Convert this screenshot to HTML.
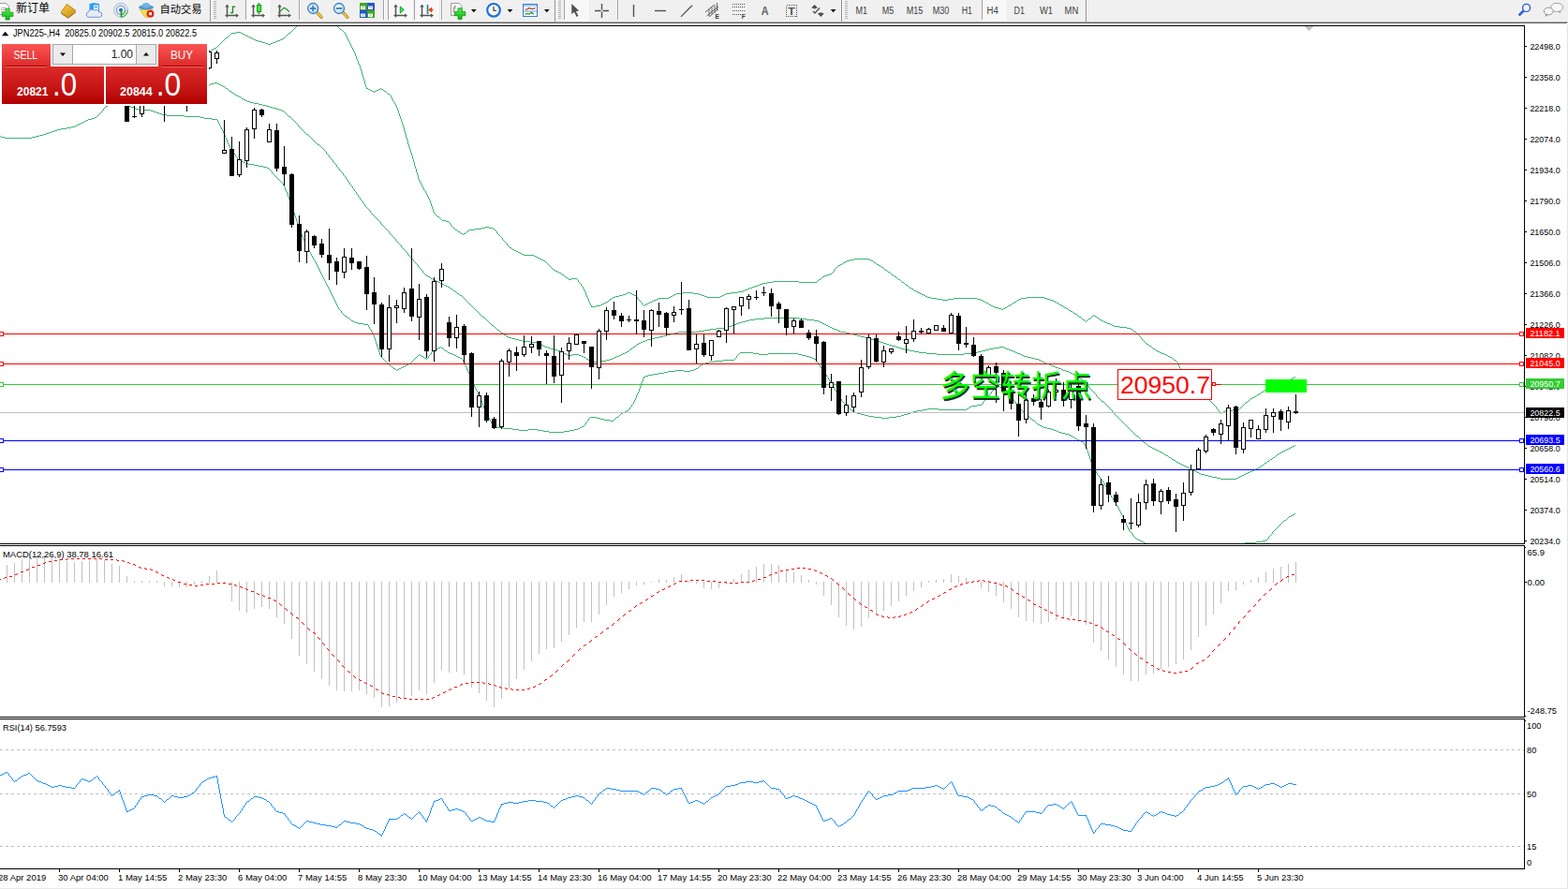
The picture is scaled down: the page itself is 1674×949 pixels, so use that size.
<!DOCTYPE html>
<html><head><meta charset="utf-8"><title>JPN225 H4</title>
<style>
html,body{margin:0;padding:0;background:#fff;}
body{width:1674px;height:949px;overflow:hidden;position:relative;font-family:"Liberation Sans",sans-serif;}
.edge{position:absolute;background:#f0f0f0;}
</style></head><body>
<div class="edge" style="left:1673px;top:25px;width:1px;height:924px;background:#e3e3e3"></div>
<div class="edge" style="left:0;top:948px;width:1674px;height:1px;background:#e8e8e8"></div>
<svg width="1674" height="949" viewBox="0 0 1674 949" style="position:absolute;left:0;top:0" font-family="Liberation Sans, sans-serif">
<defs><clipPath id="cm"><rect x="0" y="28" width="1627" height="552"/></clipPath>
<clipPath id="cmacd"><rect x="0" y="584" width="1627" height="180"/></clipPath>
<linearGradient id="gr" x1="0" y1="0" x2="0" y2="1"><stop offset="0" stop-color="#fa5252"/><stop offset="0.45" stop-color="#d62222"/><stop offset="1" stop-color="#b00000"/></linearGradient>
</defs>
<g shape-rendering="crispEdges">
<rect x="0" y="27" width="1628" height="1" fill="#000"/>
<rect x="1627" y="27" width="1" height="554" fill="#000"/>
<rect x="1627" y="582" width="1" height="184" fill="#000"/>
<rect x="1627" y="767" width="1" height="161" fill="#000"/>
<rect x="1628" y="584" width="1" height="1" fill="#000"/>
<rect x="1628" y="769" width="1" height="1" fill="#000"/>
<rect x="1628" y="764" width="1" height="1" fill="#000"/>
<rect x="0" y="580" width="1628" height="1" fill="#000"/>
<rect x="0" y="582" width="1628" height="1" fill="#000"/>
<rect x="0" y="765" width="1628" height="1" fill="#000"/>
<rect x="0" y="767" width="1628" height="1" fill="#000"/>
<rect x="0" y="927" width="1628" height="1" fill="#000"/>
</g>
<path fill="#3cb371" shape-rendering="crispEdges" d="M316 28h1v1h-1zM315 29h1v1h-1zM314 30h1v1h-1zM313 31h1v1h-1zM312 32h1v1h-1zM311 33h1v1h-1zM252 34h5v1h-5zM310 34h1v1h-1zM247 35h5v1h-5zM257 35h2v1h-2zM308 35h2v1h-2zM246 36h1v1h-1zM259 36h2v1h-2zM307 36h1v1h-1zM245 37h1v1h-1zM261 37h2v1h-2zM306 37h1v1h-1zM244 38h1v1h-1zM263 38h2v1h-2zM305 38h1v1h-1zM243 39h1v1h-1zM265 39h2v1h-2zM304 39h1v1h-1zM241 40h2v1h-2zM267 40h2v1h-2zM303 40h1v1h-1zM240 41h1v1h-1zM269 41h2v1h-2zM301 41h2v1h-2zM239 42h1v1h-1zM271 42h2v1h-2zM299 42h2v1h-2zM238 43h1v1h-1zM273 43h3v1h-3zM296 43h3v1h-3zM237 44h1v1h-1zM276 44h4v1h-4zM294 44h2v1h-2zM236 45h1v1h-1zM280 45h3v1h-3zM291 45h3v1h-3zM235 46h1v1h-1zM283 46h3v1h-3zM289 46h2v1h-2zM234 47h1v1h-1zM286 47h3v1h-3zM233 48h1v1h-1zM232 49h1v1h-1zM231 50h1v1h-1zM229 51h2v1h-2zM227 52h2v1h-2zM225 53h2v1h-2zM222 54h3v1h-3zM220 55h2v1h-2zM218 56h2v1h-2zM216 57h2v1h-2zM214 58h2v1h-2z"/>
<path fill="#3cb371" shape-rendering="crispEdges" d="M360 28h1v1h-1zM361 29h1v1h-1zM362 30h1v1h-1zM363 31h2v1h-2zM365 32h1v1h-1zM366 33h1v1h-1zM367 34h1v1h-1zM368 35h1v2h-1zM369 37h1v2h-1zM370 39h1v2h-1zM371 41h1v2h-1zM372 43h1v2h-1zM373 45h1v2h-1zM374 47h1v2h-1zM375 49h1v2h-1zM376 51h1v2h-1zM377 53h1v2h-1zM378 55h1v2h-1zM379 57h1v3h-1zM380 60h1v3h-1zM381 63h1v2h-1zM382 65h1v3h-1zM383 68h1v2h-1zM384 70h1v3h-1zM385 73h1v3h-1zM386 76h1v4h-1zM387 80h1v3h-1zM388 83h1v3h-1zM389 86h1v4h-1zM390 90h1v3h-1zM391 93h1v1h-1zM391 94h2v1h-2zM406 94h1v1h-1zM393 95h2v1h-2zM404 95h2v1h-2zM407 95h2v1h-2zM395 96h2v1h-2zM402 96h2v1h-2zM409 96h1v1h-1zM397 97h2v1h-2zM400 97h2v1h-2zM410 97h2v1h-2zM399 98h1v1h-1zM412 98h1v1h-1zM413 99h1v1h-1zM414 100h2v1h-2zM416 101h1v1h-1zM417 102h1v2h-1zM418 104h1v2h-1zM419 106h1v2h-1zM420 108h1v1h-1zM421 109h1v2h-1zM422 111h1v2h-1zM423 113h1v2h-1zM424 115h1v3h-1zM425 118h1v3h-1zM426 121h1v3h-1zM427 124h1v3h-1zM428 127h1v3h-1zM429 130h1v3h-1zM430 133h1v3h-1zM431 136h1v4h-1zM432 140h1v3h-1zM433 143h1v4h-1zM434 147h1v3h-1zM435 150h1v4h-1zM436 154h1v3h-1zM437 157h1v3h-1zM438 160h1v3h-1zM439 163h1v3h-1zM440 166h1v4h-1zM441 170h1v3h-1zM442 173h1v4h-1zM443 177h1v3h-1zM444 180h1v4h-1zM445 184h1v3h-1zM446 187h1v4h-1zM447 191h1v2h-1zM448 193h1v2h-1zM449 195h1v2h-1zM450 197h1v2h-1zM451 199h1v2h-1zM452 201h1v2h-1zM453 203h1v1h-1zM454 204h1v2h-1zM455 206h1v2h-1zM456 208h1v2h-1zM457 210h1v2h-1zM458 212h1v2h-1zM459 214h1v3h-1zM460 217h1v3h-1zM461 220h1v3h-1zM462 223h1v3h-1zM463 226h1v2h-1zM464 228h1v1h-1zM465 229h1v1h-1zM466 230h1v1h-1zM467 231h2v1h-2zM469 232h1v1h-1zM470 233h1v1h-1zM471 234h1v1h-1zM472 235h4v1h-4zM476 236h3v1h-3zM479 237h1v1h-1zM480 238h1v1h-1zM481 239h1v2h-1zM482 241h1v1h-1zM483 242h1v1h-1zM518 242h4v1h-4zM484 243h1v1h-1zM514 243h4v1h-4zM522 243h4v1h-4zM485 244h1v1h-1zM507 244h7v1h-7zM526 244h2v1h-2zM486 245h2v1h-2zM501 245h6v1h-6zM528 245h1v1h-1zM488 246h1v1h-1zM499 246h2v1h-2zM529 246h1v1h-1zM489 247h2v1h-2zM498 247h1v1h-1zM530 247h1v2h-1zM491 248h1v1h-1zM497 248h1v1h-1zM492 249h2v1h-2zM495 249h2v1h-2zM531 249h1v1h-1zM494 250h1v1h-1zM532 250h1v1h-1zM533 251h1v1h-1zM534 252h1v1h-1zM535 253h1v1h-1zM536 254h1v2h-1zM537 256h1v1h-1zM538 257h1v1h-1zM539 258h1v1h-1zM540 259h1v1h-1zM541 260h1v2h-1zM542 262h1v1h-1zM543 263h1v1h-1zM544 264h2v1h-2zM546 265h1v1h-1zM547 266h2v1h-2zM549 267h2v1h-2zM551 268h2v1h-2zM553 269h2v1h-2zM555 270h2v1h-2zM557 271h2v1h-2zM559 272h11v1h-11zM570 273h2v1h-2zM572 274h2v1h-2zM574 275h2v1h-2zM576 276h2v1h-2zM912 276h16v1h-16zM578 277h2v1h-2zM907 277h5v1h-5zM928 277h2v1h-2zM580 278h2v1h-2zM904 278h3v1h-3zM930 278h2v1h-2zM582 279h1v1h-1zM902 279h2v1h-2zM932 279h1v1h-1zM583 280h1v1h-1zM900 280h2v1h-2zM933 280h2v1h-2zM584 281h1v1h-1zM899 281h1v1h-1zM935 281h1v1h-1zM585 282h1v1h-1zM897 282h2v1h-2zM936 282h2v1h-2zM586 283h1v1h-1zM895 283h2v1h-2zM938 283h2v1h-2zM587 284h1v1h-1zM894 284h1v1h-1zM940 284h1v1h-1zM588 285h1v1h-1zM893 285h1v1h-1zM941 285h2v1h-2zM589 286h1v1h-1zM892 286h1v1h-1zM943 286h1v1h-1zM590 287h1v1h-1zM891 287h1v1h-1zM944 287h1v1h-1zM591 288h2v1h-2zM890 288h1v2h-1zM945 288h2v1h-2zM593 289h2v1h-2zM947 289h1v1h-1zM595 290h2v1h-2zM889 290h1v1h-1zM948 290h2v1h-2zM597 291h2v1h-2zM888 291h1v1h-1zM950 291h1v1h-1zM599 292h1v1h-1zM886 292h2v1h-2zM951 292h1v1h-1zM600 293h2v1h-2zM883 293h3v1h-3zM952 293h2v1h-2zM602 294h1v1h-1zM880 294h3v1h-3zM954 294h1v1h-1zM603 295h1v1h-1zM878 295h2v1h-2zM955 295h2v1h-2zM604 296h2v1h-2zM877 296h1v1h-1zM957 296h1v1h-1zM606 297h1v1h-1zM610 297h6v1h-6zM876 297h1v1h-1zM958 297h1v1h-1zM607 298h3v1h-3zM616 298h1v1h-1zM874 298h2v1h-2zM959 298h2v1h-2zM617 299h1v2h-1zM873 299h1v1h-1zM961 299h1v1h-1zM825 300h28v1h-28zM872 300h1v1h-1zM962 300h1v1h-1zM618 301h1v1h-1zM819 301h6v1h-6zM853 301h19v1h-19zM963 301h2v1h-2zM619 302h1v1h-1zM814 302h5v1h-5zM965 302h1v1h-1zM620 303h1v2h-1zM811 303h3v1h-3zM966 303h1v1h-1zM809 304h2v1h-2zM967 304h2v1h-2zM621 305h1v1h-1zM806 305h3v1h-3zM969 305h1v1h-1zM622 306h1v2h-1zM803 306h3v1h-3zM970 306h1v1h-1zM800 307h3v1h-3zM971 307h2v1h-2zM623 308h1v2h-1zM798 308h2v1h-2zM973 308h2v1h-2zM795 309h3v1h-3zM975 309h1v1h-1zM624 310h1v2h-1zM793 310h2v1h-2zM976 310h2v1h-2zM788 311h5v1h-5zM978 311h2v1h-2zM625 312h1v3h-1zM670 312h3v1h-3zM729 312h11v1h-11zM780 312h8v1h-8zM980 312h2v1h-2zM668 313h2v1h-2zM673 313h2v1h-2zM722 313h7v1h-7zM740 313h6v1h-6zM775 313h5v1h-5zM982 313h2v1h-2zM665 314h3v1h-3zM675 314h2v1h-2zM720 314h2v1h-2zM746 314h3v1h-3zM773 314h2v1h-2zM984 314h2v1h-2zM626 315h1v2h-1zM661 315h4v1h-4zM677 315h2v1h-2zM718 315h2v1h-2zM749 315h3v1h-3zM771 315h2v1h-2zM986 315h2v1h-2zM657 316h4v1h-4zM679 316h1v1h-1zM716 316h2v1h-2zM752 316h3v1h-3zM769 316h2v1h-2zM988 316h2v1h-2zM627 317h1v2h-1zM654 317h3v1h-3zM680 317h1v2h-1zM714 317h2v1h-2zM755 317h14v1h-14zM990 317h4v1h-4zM1096 317h19v1h-19zM653 318h1v1h-1zM703 318h11v1h-11zM994 318h6v1h-6zM1018 318h25v1h-25zM1090 318h6v1h-6zM1115 318h3v1h-3zM628 319h1v3h-1zM651 319h2v1h-2zM681 319h1v1h-1zM701 319h2v1h-2zM1000 319h6v1h-6zM1012 319h6v1h-6zM1043 319h4v1h-4zM1088 319h2v1h-2zM1118 319h3v1h-3zM650 320h1v1h-1zM682 320h1v1h-1zM698 320h3v1h-3zM1006 320h6v1h-6zM1047 320h2v1h-2zM1086 320h2v1h-2zM1121 320h3v1h-3zM649 321h1v1h-1zM683 321h1v1h-1zM696 321h2v1h-2zM1049 321h2v1h-2zM1085 321h1v1h-1zM1124 321h2v1h-2zM629 322h1v2h-1zM647 322h2v1h-2zM684 322h1v1h-1zM694 322h2v1h-2zM1051 322h2v1h-2zM1083 322h2v1h-2zM1126 322h2v1h-2zM645 323h2v1h-2zM685 323h1v2h-1zM692 323h2v1h-2zM1053 323h2v1h-2zM1081 323h2v1h-2zM1128 323h2v1h-2zM630 324h1v2h-1zM643 324h2v1h-2zM690 324h2v1h-2zM1055 324h1v1h-1zM1080 324h1v1h-1zM1130 324h1v1h-1zM641 325h2v1h-2zM686 325h1v1h-1zM688 325h2v1h-2zM1056 325h2v1h-2zM1078 325h2v1h-2zM1131 325h2v1h-2zM631 326h1v1h-1zM636 326h5v1h-5zM687 326h1v1h-1zM1058 326h2v1h-2zM1076 326h2v1h-2zM1133 326h2v1h-2zM631 327h5v1h-5zM1060 327h2v1h-2zM1075 327h1v1h-1zM1135 327h1v1h-1zM1062 328h4v1h-4zM1073 328h2v1h-2zM1136 328h2v1h-2zM1066 329h3v1h-3zM1071 329h2v1h-2zM1138 329h2v1h-2zM1069 330h2v1h-2zM1140 330h1v1h-1zM1141 331h2v1h-2zM1143 332h2v1h-2zM1145 333h1v1h-1zM1146 334h2v1h-2zM1148 335h2v1h-2zM1150 336h1v1h-1zM1167 336h1v1h-1zM1151 337h1v1h-1zM1166 337h1v1h-1zM1168 337h2v1h-2zM1152 338h2v1h-2zM1165 338h1v1h-1zM1170 338h1v1h-1zM1154 339h1v1h-1zM1164 339h1v1h-1zM1171 339h2v1h-2zM1155 340h1v1h-1zM1162 340h2v1h-2zM1173 340h1v1h-1zM1156 341h2v1h-2zM1161 341h1v1h-1zM1174 341h2v1h-2zM1158 342h1v1h-1zM1160 342h1v1h-1zM1176 342h2v1h-2zM1159 343h1v1h-1zM1178 343h2v1h-2zM1180 344h2v1h-2zM1182 345h3v1h-3zM1185 346h2v1h-2zM1187 347h2v1h-2zM1189 348h6v1h-6zM1195 349h8v1h-8zM1203 350h4v1h-4zM1207 351h2v1h-2zM1209 352h1v1h-1zM1210 353h1v1h-1zM1211 354h2v1h-2zM1213 355h1v1h-1zM1214 356h1v1h-1zM1215 357h1v1h-1zM1216 358h1v1h-1zM1217 359h1v1h-1zM1218 360h1v2h-1zM1219 362h1v1h-1zM1220 363h1v1h-1zM1221 364h1v1h-1zM1222 365h1v1h-1zM1223 366h1v1h-1zM1224 367h2v1h-2zM1226 368h1v1h-1zM1227 369h2v1h-2zM1229 370h1v1h-1zM1230 371h1v1h-1zM1231 372h2v1h-2zM1233 373h1v1h-1zM1234 374h2v1h-2zM1236 375h2v1h-2zM1238 376h2v1h-2zM1240 377h3v1h-3zM1243 378h2v1h-2zM1245 379h2v1h-2zM1247 380h2v1h-2zM1249 381h2v1h-2zM1251 382h1v1h-1zM1252 383h1v1h-1zM1253 384h2v1h-2zM1255 385h1v1h-1zM1256 386h1v1h-1zM1257 387h1v2h-1zM1258 389h1v2h-1zM1259 391h1v2h-1zM1260 393h1v1h-1zM1261 394h1v1h-1zM1262 395h1v1h-1zM1263 396h1v1h-1zM1264 397h1v1h-1zM1265 398h1v2h-1zM1266 400h1v1h-1zM1267 401h1v1h-1zM1268 402h1v1h-1zM1382 402h1v1h-1zM1269 403h1v1h-1zM1380 403h2v1h-2zM1270 404h1v1h-1zM1378 404h2v1h-2zM1271 405h1v1h-1zM1376 405h2v1h-2zM1272 406h1v2h-1zM1373 406h3v1h-3zM1371 407h2v1h-2zM1273 408h1v1h-1zM1368 408h3v1h-3zM1274 409h1v1h-1zM1366 409h2v1h-2zM1275 410h1v1h-1zM1363 410h3v1h-3zM1276 411h1v1h-1zM1361 411h2v1h-2zM1277 412h1v2h-1zM1359 412h2v1h-2zM1356 413h3v1h-3zM1278 414h1v1h-1zM1354 414h2v1h-2zM1279 415h1v1h-1zM1352 415h2v1h-2zM1280 416h1v1h-1zM1350 416h2v1h-2zM1281 417h1v1h-1zM1349 417h1v1h-1zM1282 418h1v1h-1zM1347 418h2v1h-2zM1283 419h1v1h-1zM1346 419h1v1h-1zM1284 420h1v1h-1zM1344 420h2v1h-2zM1285 421h1v1h-1zM1342 421h2v1h-2zM1286 422h1v1h-1zM1341 422h1v1h-1zM1287 423h1v1h-1zM1339 423h2v1h-2zM1288 424h1v1h-1zM1337 424h2v1h-2zM1289 425h1v1h-1zM1335 425h2v1h-2zM1290 426h1v1h-1zM1334 426h1v1h-1zM1291 427h1v1h-1zM1333 427h1v1h-1zM1292 428h1v1h-1zM1332 428h1v1h-1zM1293 429h1v1h-1zM1330 429h2v1h-2zM1294 430h1v1h-1zM1329 430h1v1h-1zM1295 431h1v1h-1zM1328 431h1v1h-1zM1296 432h1v1h-1zM1327 432h1v1h-1zM1297 433h1v1h-1zM1326 433h1v1h-1zM1298 434h1v2h-1zM1325 434h1v1h-1zM1324 435h1v1h-1zM1299 436h1v1h-1zM1323 436h1v1h-1zM1300 437h1v1h-1zM1316 437h7v1h-7zM1301 438h1v2h-1zM1308 438h8v1h-8zM1306 439h2v1h-2zM1302 440h1v1h-1zM1304 440h2v1h-2zM1303 441h1v1h-1z"/>
<path fill="#3cb371" shape-rendering="crispEdges" d="M229 88h3v1h-3zM225 89h4v1h-4zM232 89h2v1h-2zM221 90h4v1h-4zM234 90h2v1h-2zM217 91h4v1h-4zM236 91h2v1h-2zM214 92h3v1h-3zM238 92h2v1h-2zM240 93h1v1h-1zM241 94h2v1h-2zM243 95h1v1h-1zM244 96h1v1h-1zM245 97h2v1h-2zM247 98h1v1h-1zM248 99h2v1h-2zM250 100h1v1h-1zM251 101h2v1h-2zM253 102h2v1h-2zM255 103h2v1h-2zM257 104h1v1h-1zM258 105h2v1h-2zM260 106h2v1h-2zM262 107h2v1h-2zM264 108h3v1h-3zM267 109h4v1h-4zM271 110h5v1h-5zM276 111h4v1h-4zM280 112h4v1h-4zM284 113h4v1h-4zM288 114h3v1h-3zM291 115h4v1h-4zM295 116h3v1h-3zM298 117h3v1h-3zM301 118h2v1h-2zM303 119h1v1h-1zM304 120h1v1h-1zM305 121h1v1h-1zM306 122h1v1h-1zM307 123h1v1h-1zM308 124h2v1h-2zM310 125h1v1h-1zM311 126h1v1h-1zM312 127h1v1h-1zM313 128h1v1h-1zM314 129h1v1h-1zM315 130h1v1h-1zM316 131h1v1h-1zM317 132h1v1h-1zM318 133h1v2h-1zM319 135h1v1h-1zM320 136h1v1h-1zM321 137h1v1h-1zM322 138h1v1h-1zM323 139h1v1h-1zM324 140h1v1h-1zM325 141h1v1h-1zM326 142h1v1h-1zM327 143h2v1h-2zM329 144h1v1h-1zM330 145h1v1h-1zM331 146h1v1h-1zM332 147h1v1h-1zM333 148h1v1h-1zM334 149h1v1h-1zM335 150h1v1h-1zM336 151h1v1h-1zM337 152h1v1h-1zM338 153h1v1h-1zM339 154h2v1h-2zM341 155h1v1h-1zM342 156h1v1h-1zM343 157h1v1h-1zM344 158h1v1h-1zM345 159h1v1h-1zM346 160h1v1h-1zM347 161h1v1h-1zM348 162h1v2h-1zM349 164h1v1h-1zM350 165h1v1h-1zM351 166h1v2h-1zM352 168h1v1h-1zM353 169h1v1h-1zM354 170h1v1h-1zM355 171h1v2h-1zM356 173h1v1h-1zM357 174h1v1h-1zM358 175h1v1h-1zM359 176h1v2h-1zM360 178h1v1h-1zM361 179h1v1h-1zM362 180h1v2h-1zM363 182h1v1h-1zM364 183h1v1h-1zM365 184h1v1h-1zM366 185h1v2h-1zM367 187h1v1h-1zM368 188h1v1h-1zM369 189h1v2h-1zM370 191h1v1h-1zM371 192h1v2h-1zM372 194h1v1h-1zM373 195h1v2h-1zM374 197h1v1h-1zM375 198h1v1h-1zM376 199h1v2h-1zM377 201h1v1h-1zM378 202h1v2h-1zM379 204h1v1h-1zM380 205h1v2h-1zM381 207h1v1h-1zM382 208h1v2h-1zM383 210h1v1h-1zM384 211h1v2h-1zM385 213h1v1h-1zM386 214h1v1h-1zM387 215h1v2h-1zM388 217h1v1h-1zM389 218h1v2h-1zM390 220h1v1h-1zM391 221h1v1h-1zM392 222h1v1h-1zM393 223h1v1h-1zM394 224h1v1h-1zM395 225h1v2h-1zM396 227h1v1h-1zM397 228h1v1h-1zM398 229h1v1h-1zM399 230h1v1h-1zM400 231h1v1h-1zM401 232h1v1h-1zM402 233h1v1h-1zM403 234h1v1h-1zM404 235h1v1h-1zM405 236h1v1h-1zM406 237h1v2h-1zM407 239h1v1h-1zM408 240h1v1h-1zM409 241h1v1h-1zM410 242h1v1h-1zM411 243h1v1h-1zM412 244h1v1h-1zM413 245h1v1h-1zM414 246h1v1h-1zM415 247h1v2h-1zM416 249h1v1h-1zM417 250h1v1h-1zM418 251h1v1h-1zM419 252h1v1h-1zM420 253h1v1h-1zM421 254h1v1h-1zM422 255h1v2h-1zM423 257h1v1h-1zM424 258h1v1h-1zM425 259h1v1h-1zM426 260h1v1h-1zM427 261h1v1h-1zM428 262h1v2h-1zM429 264h1v1h-1zM430 265h1v1h-1zM431 266h1v1h-1zM432 267h1v1h-1zM433 268h1v1h-1zM434 269h1v1h-1zM435 270h1v2h-1zM436 272h1v1h-1zM437 273h1v1h-1zM438 274h1v1h-1zM439 275h1v1h-1zM440 276h1v1h-1zM441 277h1v2h-1zM442 279h1v1h-1zM443 280h1v1h-1zM444 281h1v1h-1zM445 282h1v1h-1zM446 283h1v2h-1zM447 285h1v1h-1zM448 286h1v1h-1zM449 287h1v1h-1zM450 288h1v1h-1zM451 289h1v2h-1zM452 291h1v1h-1zM453 292h1v1h-1zM454 293h1v1h-1zM455 294h2v1h-2zM457 295h2v1h-2zM459 296h1v1h-1zM460 297h2v1h-2zM462 298h2v1h-2zM464 299h2v1h-2zM466 300h2v1h-2zM468 301h2v1h-2zM470 302h2v1h-2zM472 303h2v1h-2zM474 304h2v1h-2zM476 305h2v1h-2zM478 306h2v1h-2zM480 307h1v1h-1zM481 308h2v1h-2zM483 309h1v1h-1zM484 310h2v1h-2zM486 311h1v1h-1zM487 312h1v1h-1zM488 313h2v1h-2zM490 314h1v1h-1zM491 315h2v1h-2zM493 316h1v1h-1zM494 317h1v1h-1zM495 318h1v1h-1zM496 319h1v1h-1zM497 320h1v1h-1zM498 321h1v1h-1zM499 322h1v1h-1zM500 323h1v1h-1zM501 324h1v1h-1zM502 325h1v1h-1zM503 326h1v1h-1zM504 327h1v1h-1zM505 328h1v1h-1zM506 329h1v1h-1zM507 330h1v1h-1zM508 331h1v1h-1zM509 332h1v1h-1zM510 333h1v1h-1zM511 334h1v1h-1zM512 335h1v1h-1zM513 336h1v1h-1zM514 337h1v1h-1zM515 338h2v1h-2zM517 339h1v1h-1zM816 339h37v1h-37zM518 340h1v1h-1zM806 340h10v1h-10zM853 340h8v1h-8zM519 341h1v1h-1zM800 341h6v1h-6zM861 341h8v1h-8zM520 342h1v1h-1zM796 342h4v1h-4zM869 342h5v1h-5zM521 343h1v1h-1zM792 343h4v1h-4zM874 343h2v1h-2zM522 344h1v1h-1zM789 344h3v1h-3zM876 344h2v1h-2zM523 345h1v1h-1zM786 345h3v1h-3zM878 345h2v1h-2zM524 346h1v1h-1zM784 346h2v1h-2zM880 346h2v1h-2zM525 347h2v1h-2zM781 347h3v1h-3zM882 347h2v1h-2zM527 348h1v1h-1zM778 348h3v1h-3zM884 348h2v1h-2zM528 349h1v1h-1zM773 349h5v1h-5zM886 349h2v1h-2zM529 350h1v1h-1zM765 350h8v1h-8zM888 350h2v1h-2zM530 351h1v1h-1zM758 351h7v1h-7zM890 351h3v1h-3zM531 352h2v1h-2zM752 352h6v1h-6zM893 352h2v1h-2zM533 353h1v1h-1zM746 353h6v1h-6zM895 353h2v1h-2zM534 354h1v1h-1zM724 354h22v1h-22zM897 354h6v1h-6zM535 355h2v1h-2zM720 355h4v1h-4zM903 355h4v1h-4zM537 356h1v1h-1zM716 356h4v1h-4zM907 356h4v1h-4zM538 357h2v1h-2zM712 357h4v1h-4zM911 357h4v1h-4zM540 358h1v1h-1zM708 358h4v1h-4zM915 358h4v1h-4zM541 359h2v1h-2zM704 359h4v1h-4zM919 359h4v1h-4zM543 360h3v1h-3zM699 360h5v1h-5zM923 360h3v1h-3zM546 361h4v1h-4zM695 361h4v1h-4zM926 361h4v1h-4zM550 362h4v1h-4zM691 362h4v1h-4zM930 362h3v1h-3zM554 363h4v1h-4zM689 363h2v1h-2zM933 363h3v1h-3zM558 364h8v1h-8zM686 364h3v1h-3zM936 364h4v1h-4zM566 365h8v1h-8zM684 365h2v1h-2zM940 365h3v1h-3zM574 366h2v1h-2zM682 366h2v1h-2zM943 366h3v1h-3zM576 367h2v1h-2zM680 367h2v1h-2zM946 367h3v1h-3zM578 368h2v1h-2zM679 368h1v1h-1zM949 368h3v1h-3zM580 369h2v1h-2zM678 369h1v1h-1zM952 369h4v1h-4zM582 370h3v1h-3zM676 370h2v1h-2zM956 370h3v1h-3zM1067 370h5v1h-5zM585 371h3v1h-3zM675 371h1v1h-1zM959 371h3v1h-3zM1061 371h6v1h-6zM1072 371h2v1h-2zM588 372h4v1h-4zM673 372h2v1h-2zM962 372h4v1h-4zM1056 372h5v1h-5zM1074 372h3v1h-3zM592 373h3v1h-3zM672 373h1v1h-1zM966 373h5v1h-5zM1052 373h4v1h-4zM1077 373h2v1h-2zM595 374h3v1h-3zM671 374h1v1h-1zM971 374h5v1h-5zM1048 374h4v1h-4zM1079 374h3v1h-3zM598 375h2v1h-2zM669 375h2v1h-2zM976 375h5v1h-5zM1044 375h4v1h-4zM1082 375h2v1h-2zM600 376h2v1h-2zM667 376h2v1h-2zM981 376h8v1h-8zM1037 376h7v1h-7zM1084 376h2v1h-2zM602 377h2v1h-2zM665 377h2v1h-2zM989 377h11v1h-11zM1029 377h8v1h-8zM1086 377h3v1h-3zM604 378h2v1h-2zM611 378h7v1h-7zM663 378h2v1h-2zM1000 378h29v1h-29zM1089 378h2v1h-2zM606 379h5v1h-5zM618 379h3v1h-3zM661 379h2v1h-2zM1091 379h2v1h-2zM621 380h2v1h-2zM658 380h3v1h-3zM1093 380h4v1h-4zM623 381h2v1h-2zM656 381h2v1h-2zM1097 381h4v1h-4zM625 382h1v1h-1zM654 382h2v1h-2zM1101 382h4v1h-4zM626 383h2v1h-2zM651 383h3v1h-3zM1105 383h4v1h-4zM628 384h2v1h-2zM647 384h4v1h-4zM1109 384h2v1h-2zM630 385h3v1h-3zM640 385h7v1h-7zM1111 385h2v1h-2zM633 386h7v1h-7zM1113 386h2v1h-2zM1115 387h2v1h-2zM1117 388h3v1h-3zM1120 389h2v1h-2zM1122 390h3v1h-3zM1125 391h2v1h-2zM1127 392h3v1h-3zM1130 393h3v1h-3zM1133 394h2v1h-2zM1135 395h3v1h-3zM1138 396h3v1h-3zM1141 397h2v1h-2zM1143 398h2v1h-2zM1145 399h2v1h-2zM1147 400h2v1h-2zM1149 401h2v1h-2zM1151 402h1v1h-1zM1152 403h1v1h-1zM1153 404h2v1h-2zM1155 405h1v1h-1zM1156 406h1v1h-1zM1157 407h1v1h-1zM1158 408h1v1h-1zM1159 409h1v1h-1zM1160 410h1v1h-1zM1161 411h1v1h-1zM1162 412h1v2h-1zM1163 414h1v1h-1zM1164 415h1v1h-1zM1165 416h1v1h-1zM1166 417h1v1h-1zM1167 418h1v1h-1zM1168 419h1v1h-1zM1169 420h1v1h-1zM1170 421h1v2h-1zM1171 423h1v1h-1zM1172 424h1v1h-1zM1173 425h1v1h-1zM1174 426h1v1h-1zM1175 427h1v1h-1zM1176 428h2v1h-2zM1178 429h1v1h-1zM1179 430h1v1h-1zM1180 431h1v1h-1zM1181 432h1v1h-1zM1182 433h1v1h-1zM1183 434h1v1h-1zM1184 435h1v1h-1zM1185 436h1v1h-1zM1186 437h1v1h-1zM1187 438h1v2h-1zM1188 440h1v1h-1zM1189 441h1v1h-1zM1190 442h1v1h-1zM1191 443h1v1h-1zM1192 444h1v1h-1zM1193 445h1v1h-1zM1194 446h1v1h-1zM1195 447h1v1h-1zM1196 448h1v1h-1zM1197 449h1v1h-1zM1198 450h1v1h-1zM1199 451h1v1h-1zM1200 452h1v1h-1zM1201 453h1v1h-1zM1202 454h1v1h-1zM1203 455h1v1h-1zM1204 456h1v1h-1zM1205 457h1v1h-1zM1206 458h1v1h-1zM1207 459h1v1h-1zM1208 460h1v1h-1zM1209 461h1v1h-1zM1210 462h1v1h-1zM1211 463h1v1h-1zM1212 464h1v1h-1zM1213 465h2v1h-2zM1215 466h1v1h-1zM1216 467h1v1h-1zM1217 468h1v1h-1zM1218 469h1v1h-1zM1219 470h1v1h-1zM1220 471h1v1h-1zM1221 472h2v1h-2zM1223 473h1v1h-1zM1224 474h1v1h-1zM1225 475h1v1h-1zM1382 475h1v1h-1zM1226 476h2v1h-2zM1380 476h2v1h-2zM1228 477h2v1h-2zM1378 477h2v1h-2zM1230 478h2v1h-2zM1376 478h2v1h-2zM1232 479h2v1h-2zM1374 479h2v1h-2zM1234 480h2v1h-2zM1372 480h2v1h-2zM1236 481h2v1h-2zM1370 481h2v1h-2zM1238 482h2v1h-2zM1368 482h2v1h-2zM1240 483h2v1h-2zM1366 483h2v1h-2zM1242 484h1v1h-1zM1365 484h1v1h-1zM1243 485h2v1h-2zM1363 485h2v1h-2zM1245 486h2v1h-2zM1362 486h1v1h-1zM1247 487h1v1h-1zM1361 487h1v1h-1zM1248 488h2v1h-2zM1359 488h2v1h-2zM1250 489h1v1h-1zM1358 489h1v1h-1zM1251 490h2v1h-2zM1356 490h2v1h-2zM1253 491h2v1h-2zM1355 491h1v1h-1zM1255 492h1v1h-1zM1353 492h2v1h-2zM1256 493h2v1h-2zM1352 493h1v1h-1zM1258 494h2v1h-2zM1350 494h2v1h-2zM1260 495h2v1h-2zM1349 495h1v1h-1zM1262 496h2v1h-2zM1348 496h1v1h-1zM1264 497h2v1h-2zM1346 497h2v1h-2zM1266 498h2v1h-2zM1345 498h1v1h-1zM1268 499h2v1h-2zM1343 499h2v1h-2zM1270 500h2v1h-2zM1341 500h2v1h-2zM1272 501h2v1h-2zM1339 501h2v1h-2zM1274 502h2v1h-2zM1337 502h2v1h-2zM1276 503h2v1h-2zM1334 503h3v1h-3zM1278 504h2v1h-2zM1332 504h2v1h-2zM1280 505h2v1h-2zM1330 505h2v1h-2zM1282 506h4v1h-4zM1328 506h2v1h-2zM1286 507h4v1h-4zM1326 507h2v1h-2zM1290 508h4v1h-4zM1324 508h2v1h-2zM1294 509h5v1h-5zM1322 509h2v1h-2zM1299 510h4v1h-4zM1320 510h2v1h-2zM1303 511h17v1h-17z"/>
<path fill="#3cb371" shape-rendering="crispEdges" d="M123 108h3v1h-3zM121 109h2v1h-2zM126 109h3v1h-3zM119 110h2v1h-2zM129 110h3v1h-3zM117 111h2v1h-2zM132 111h2v1h-2zM115 112h2v1h-2zM134 112h3v1h-3zM113 113h2v1h-2zM137 113h3v1h-3zM112 114h1v1h-1zM140 114h3v1h-3zM111 115h1v1h-1zM143 115h2v1h-2zM110 116h1v2h-1zM145 116h3v1h-3zM148 117h13v1h-13zM109 118h1v1h-1zM161 118h3v1h-3zM108 119h1v1h-1zM164 119h3v1h-3zM107 120h1v1h-1zM167 120h3v1h-3zM106 121h1v1h-1zM170 121h3v1h-3zM105 122h1v1h-1zM173 122h5v1h-5zM104 123h1v1h-1zM178 123h19v1h-19zM103 124h1v1h-1zM197 124h17v1h-17zM101 125h2v1h-2zM214 125h4v1h-4zM98 126h3v1h-3zM218 126h8v1h-8zM94 127h4v1h-4zM226 127h6v1h-6zM92 128h2v1h-2zM232 128h1v2h-1zM90 129h2v1h-2zM88 130h2v1h-2zM233 130h1v2h-1zM86 131h2v1h-2zM84 132h2v1h-2zM234 132h1v2h-1zM82 133h2v1h-2zM80 134h2v1h-2zM235 134h1v2h-1zM76 135h4v1h-4zM71 136h5v1h-5zM236 136h1v2h-1zM65 137h6v1h-6zM61 138h4v1h-4zM237 138h1v2h-1zM58 139h3v1h-3zM55 140h3v1h-3zM238 140h1v2h-1zM52 141h3v1h-3zM49 142h3v1h-3zM239 142h1v2h-1zM46 143h3v1h-3zM42 144h4v1h-4zM240 144h1v3h-1zM0 145h1v1h-1zM38 145h4v1h-4zM1 146h4v1h-4zM34 146h4v1h-4zM5 147h29v1h-29zM241 147h1v2h-1zM242 149h1v3h-1zM243 152h1v2h-1zM244 154h1v2h-1zM245 156h1v2h-1zM246 158h1v1h-1zM247 159h1v2h-1zM248 161h1v1h-1zM249 162h1v2h-1zM250 164h1v1h-1zM251 165h1v2h-1zM252 167h1v1h-1zM253 168h1v2h-1zM254 170h2v1h-2zM256 171h2v1h-2zM258 172h2v1h-2zM260 173h2v1h-2zM262 174h3v1h-3zM265 175h6v1h-6zM271 176h5v1h-5zM276 177h5v1h-5zM281 178h4v1h-4zM285 179h2v1h-2zM287 180h1v1h-1zM288 181h1v1h-1zM289 182h1v1h-1zM290 183h1v2h-1zM291 185h1v1h-1zM292 186h1v1h-1zM293 187h1v1h-1zM294 188h1v1h-1zM295 189h1v1h-1zM296 190h1v1h-1zM297 191h1v1h-1zM298 192h1v1h-1zM299 193h1v1h-1zM300 194h1v1h-1zM301 195h1v1h-1zM302 196h1v2h-1zM303 198h1v2h-1zM304 200h1v3h-1zM305 203h1v2h-1zM306 205h1v2h-1zM307 207h1v3h-1zM308 210h1v3h-1zM309 213h1v3h-1zM310 216h1v3h-1zM311 219h1v2h-1zM312 221h1v3h-1zM313 224h1v3h-1zM314 227h1v3h-1zM315 230h1v3h-1zM316 233h1v3h-1zM317 236h1v3h-1zM318 239h1v2h-1zM319 241h1v3h-1zM320 244h1v3h-1zM321 247h1v3h-1zM322 250h1v3h-1zM323 253h1v2h-1zM324 255h1v2h-1zM325 257h1v2h-1zM326 259h1v2h-1zM327 261h1v2h-1zM328 263h1v2h-1zM329 265h1v2h-1zM330 267h1v2h-1zM331 269h1v2h-1zM332 271h1v2h-1zM333 273h1v2h-1zM334 275h1v2h-1zM335 277h1v1h-1zM336 278h1v2h-1zM337 280h1v2h-1zM338 282h1v2h-1zM339 284h1v2h-1zM340 286h1v2h-1zM341 288h1v2h-1zM342 290h1v2h-1zM343 292h1v2h-1zM344 294h1v2h-1zM345 296h1v2h-1zM346 298h1v2h-1zM347 300h1v2h-1zM348 302h1v2h-1zM349 304h1v2h-1zM350 306h1v2h-1zM351 308h1v2h-1zM352 310h1v2h-1zM353 312h1v2h-1zM354 314h1v2h-1zM355 316h1v2h-1zM356 318h1v2h-1zM357 320h1v2h-1zM358 322h1v2h-1zM359 324h1v2h-1zM360 326h1v2h-1zM361 328h1v2h-1zM362 330h1v1h-1zM363 331h1v1h-1zM364 332h1v2h-1zM365 334h1v1h-1zM366 335h1v1h-1zM367 336h1v1h-1zM368 337h2v1h-2zM370 338h1v1h-1zM371 339h2v1h-2zM373 340h1v1h-1zM374 341h1v1h-1zM375 342h2v1h-2zM377 343h2v1h-2zM379 344h3v1h-3zM382 345h6v1h-6zM388 346h5v1h-5zM393 347h1v2h-1zM394 349h1v2h-1zM395 351h1v1h-1zM396 352h1v2h-1zM397 354h1v2h-1zM398 356h1v2h-1zM399 358h1v3h-1zM400 361h1v3h-1zM401 364h1v3h-1zM402 367h1v3h-1zM403 370h1v3h-1zM470 370h1v1h-1zM468 371h2v1h-2zM471 371h2v1h-2zM466 372h2v1h-2zM473 372h1v1h-1zM404 373h1v3h-1zM464 373h2v1h-2zM474 373h1v1h-1zM462 374h2v1h-2zM475 374h2v1h-2zM461 375h1v1h-1zM477 375h1v1h-1zM405 376h1v3h-1zM460 376h1v2h-1zM478 376h2v1h-2zM790 376h14v1h-14zM480 377h3v1h-3zM789 377h1v1h-1zM804 377h6v1h-6zM820 377h32v1h-32zM447 378h1v1h-1zM459 378h1v1h-1zM483 378h2v1h-2zM788 378h1v1h-1zM810 378h10v1h-10zM852 378h4v1h-4zM406 379h1v2h-1zM446 379h1v1h-1zM448 379h2v1h-2zM458 379h1v1h-1zM485 379h2v1h-2zM787 379h1v1h-1zM856 379h4v1h-4zM445 380h1v1h-1zM450 380h2v1h-2zM457 380h1v2h-1zM487 380h2v1h-2zM786 380h1v2h-1zM860 380h4v1h-4zM407 381h1v1h-1zM444 381h1v1h-1zM452 381h1v1h-1zM489 381h2v1h-2zM864 381h3v1h-3zM408 382h1v1h-1zM443 382h1v1h-1zM453 382h2v1h-2zM456 382h1v1h-1zM491 382h2v1h-2zM785 382h1v1h-1zM867 382h2v1h-2zM409 383h1v1h-1zM442 383h1v1h-1zM455 383h1v1h-1zM493 383h1v1h-1zM784 383h1v1h-1zM869 383h2v1h-2zM410 384h1v1h-1zM441 384h1v1h-1zM494 384h1v2h-1zM772 384h12v1h-12zM871 384h1v2h-1zM411 385h1v1h-1zM440 385h1v1h-1zM763 385h9v1h-9zM412 386h1v1h-1zM439 386h1v1h-1zM495 386h1v2h-1zM757 386h6v1h-6zM872 386h1v1h-1zM413 387h1v1h-1zM438 387h1v1h-1zM753 387h4v1h-4zM873 387h1v2h-1zM414 388h1v1h-1zM436 388h2v1h-2zM496 388h1v2h-1zM750 388h3v1h-3zM415 389h1v1h-1zM434 389h2v1h-2zM749 389h1v1h-1zM874 389h1v1h-1zM416 390h2v1h-2zM432 390h2v1h-2zM497 390h1v2h-1zM747 390h2v1h-2zM875 390h1v2h-1zM418 391h1v1h-1zM430 391h2v1h-2zM746 391h1v1h-1zM419 392h1v1h-1zM428 392h2v1h-2zM498 392h1v3h-1zM745 392h1v1h-1zM876 392h1v1h-1zM420 393h2v1h-2zM426 393h2v1h-2zM743 393h2v1h-2zM877 393h1v2h-1zM422 394h1v1h-1zM424 394h2v1h-2zM741 394h2v1h-2zM423 395h1v1h-1zM499 395h1v2h-1zM721 395h9v1h-9zM737 395h4v1h-4zM878 395h1v1h-1zM713 396h8v1h-8zM730 396h7v1h-7zM879 396h1v2h-1zM500 397h1v2h-1zM709 397h4v1h-4zM703 398h6v1h-6zM880 398h1v1h-1zM501 399h1v3h-1zM697 399h6v1h-6zM881 399h1v1h-1zM692 400h5v1h-5zM882 400h1v2h-1zM689 401h3v1h-3zM502 402h1v2h-1zM687 402h2v1h-2zM883 402h1v1h-1zM687 403h1v1h-1zM884 403h1v2h-1zM503 404h1v3h-1zM686 404h1v3h-1zM885 405h1v2h-1zM504 407h1v2h-1zM685 407h1v2h-1zM886 407h1v1h-1zM887 408h1v2h-1zM505 409h1v2h-1zM684 409h1v3h-1zM888 410h1v1h-1zM506 411h1v2h-1zM889 411h1v2h-1zM683 412h1v3h-1zM1066 412h1v1h-1zM507 413h1v2h-1zM890 413h1v2h-1zM1064 413h2v1h-2zM1067 413h2v1h-2zM1063 414h1v1h-1zM1069 414h2v1h-2zM508 415h1v2h-1zM682 415h1v3h-1zM891 415h1v2h-1zM1061 415h2v1h-2zM1071 415h2v1h-2zM1060 416h1v1h-1zM1073 416h2v1h-2zM509 417h1v2h-1zM892 417h1v1h-1zM1059 417h1v1h-1zM1075 417h1v1h-1zM681 418h1v2h-1zM893 418h1v2h-1zM1058 418h1v2h-1zM1076 418h1v2h-1zM510 419h1v2h-1zM680 420h1v2h-1zM894 420h1v2h-1zM1057 420h1v1h-1zM1077 420h1v1h-1zM511 421h1v2h-1zM1056 421h1v1h-1zM1078 421h1v2h-1zM679 422h1v3h-1zM895 422h1v2h-1zM1055 422h1v1h-1zM512 423h1v2h-1zM1054 423h1v1h-1zM1079 423h1v1h-1zM896 424h1v1h-1zM1053 424h1v2h-1zM1080 424h1v1h-1zM513 425h1v3h-1zM678 425h1v2h-1zM897 425h1v1h-1zM1081 425h1v2h-1zM898 426h1v2h-1zM1052 426h1v1h-1zM677 427h1v2h-1zM1051 427h1v1h-1zM1082 427h1v1h-1zM514 428h1v2h-1zM899 428h1v1h-1zM1050 428h1v1h-1zM1083 428h1v1h-1zM676 429h1v2h-1zM900 429h1v1h-1zM1049 429h1v2h-1zM1084 429h1v2h-1zM515 430h1v3h-1zM901 430h1v1h-1zM675 431h1v1h-1zM902 431h1v2h-1zM1048 431h1v1h-1zM1085 431h1v1h-1zM674 432h1v2h-1zM1043 432h5v1h-5zM1086 432h1v1h-1zM516 433h1v3h-1zM903 433h1v1h-1zM1037 433h6v1h-6zM1087 433h1v1h-1zM673 434h1v1h-1zM904 434h1v1h-1zM1035 434h2v1h-2zM1088 434h1v1h-1zM672 435h1v2h-1zM905 435h2v1h-2zM1034 435h1v1h-1zM1089 435h1v2h-1zM517 436h1v2h-1zM907 436h1v1h-1zM990 436h12v1h-12zM1032 436h2v1h-2zM671 437h1v1h-1zM908 437h1v1h-1zM985 437h5v1h-5zM1002 437h30v1h-30zM1090 437h1v1h-1zM518 438h1v2h-1zM669 438h2v1h-2zM909 438h2v1h-2zM979 438h6v1h-6zM1091 438h1v1h-1zM667 439h2v1h-2zM911 439h1v1h-1zM975 439h4v1h-4zM1092 439h1v1h-1zM519 440h1v2h-1zM665 440h2v1h-2zM912 440h3v1h-3zM972 440h3v1h-3zM1093 440h1v1h-1zM663 441h2v1h-2zM915 441h4v1h-4zM969 441h3v1h-3zM1094 441h2v1h-2zM520 442h1v2h-1zM662 442h1v1h-1zM919 442h4v1h-4zM965 442h4v1h-4zM1096 442h1v1h-1zM661 443h1v1h-1zM923 443h4v1h-4zM962 443h3v1h-3zM1097 443h1v1h-1zM521 444h1v2h-1zM660 444h1v1h-1zM927 444h6v1h-6zM957 444h5v1h-5zM1098 444h1v1h-1zM630 445h7v1h-7zM658 445h2v1h-2zM933 445h8v1h-8zM949 445h8v1h-8zM1099 445h1v1h-1zM522 446h1v2h-1zM629 446h1v1h-1zM637 446h4v1h-4zM657 446h1v1h-1zM941 446h8v1h-8zM1100 446h1v1h-1zM628 447h1v2h-1zM641 447h4v1h-4zM656 447h1v1h-1zM1101 447h1v1h-1zM523 448h1v2h-1zM645 448h6v1h-6zM655 448h1v1h-1zM1102 448h2v1h-2zM627 449h1v1h-1zM651 449h4v1h-4zM1104 449h1v1h-1zM524 450h1v2h-1zM626 450h1v1h-1zM1105 450h1v1h-1zM625 451h1v2h-1zM1106 451h1v1h-1zM525 452h1v1h-1zM1107 452h1v1h-1zM526 453h1v1h-1zM624 453h1v1h-1zM1108 453h2v1h-2zM527 454h2v1h-2zM623 454h1v1h-1zM1110 454h2v1h-2zM529 455h1v1h-1zM621 455h2v1h-2zM1112 455h2v1h-2zM530 456h7v1h-7zM619 456h2v1h-2zM1114 456h4v1h-4zM537 457h10v1h-10zM617 457h2v1h-2zM1118 457h4v1h-4zM547 458h7v1h-7zM564 458h10v1h-10zM613 458h4v1h-4zM1122 458h3v1h-3zM554 459h10v1h-10zM574 459h6v1h-6zM608 459h5v1h-5zM1125 459h3v1h-3zM580 460h6v1h-6zM602 460h6v1h-6zM1128 460h2v1h-2zM586 461h16v1h-16zM1130 461h3v1h-3zM1133 462h4v1h-4zM1137 463h4v1h-4zM1141 464h2v1h-2zM1143 465h2v1h-2zM1145 466h2v1h-2zM1147 467h1v1h-1zM1148 468h2v1h-2zM1150 469h2v1h-2zM1152 470h2v1h-2zM1154 471h2v1h-2zM1156 472h1v1h-1zM1157 473h1v2h-1zM1158 475h1v1h-1zM1159 476h1v2h-1zM1160 478h1v3h-1zM1161 481h1v3h-1zM1162 484h1v3h-1zM1163 487h1v3h-1zM1164 490h1v3h-1zM1165 493h1v2h-1zM1166 495h1v2h-1zM1167 497h1v2h-1zM1168 499h1v2h-1zM1169 501h1v2h-1zM1170 503h1v2h-1zM1171 505h1v2h-1zM1172 507h1v1h-1zM1173 508h1v1h-1zM1174 509h1v2h-1zM1175 511h1v1h-1zM1176 512h1v1h-1zM1177 513h1v2h-1zM1178 515h1v1h-1zM1179 516h1v2h-1zM1180 518h1v2h-1zM1181 520h1v2h-1zM1182 522h1v2h-1zM1183 524h1v2h-1zM1184 526h1v1h-1zM1185 527h1v2h-1zM1186 529h1v2h-1zM1187 531h1v1h-1zM1188 532h1v2h-1zM1189 534h1v1h-1zM1190 535h1v2h-1zM1191 537h1v2h-1zM1192 539h1v1h-1zM1193 540h1v2h-1zM1194 542h1v2h-1zM1195 544h1v2h-1zM1196 546h1v2h-1zM1197 548h1v2h-1zM1382 548h1v1h-1zM1380 549h2v1h-2zM1198 550h1v2h-1zM1378 550h2v1h-2zM1376 551h2v1h-2zM1199 552h1v2h-1zM1375 552h1v1h-1zM1374 553h1v1h-1zM1200 554h1v2h-1zM1373 554h1v1h-1zM1371 555h2v1h-2zM1201 556h1v2h-1zM1370 556h1v1h-1zM1369 557h1v1h-1zM1202 558h1v3h-1zM1368 558h1v1h-1zM1367 559h1v1h-1zM1366 560h1v1h-1zM1203 561h1v2h-1zM1365 561h1v1h-1zM1364 562h1v1h-1zM1204 563h1v2h-1zM1363 563h1v1h-1zM1362 564h1v1h-1zM1205 565h1v2h-1zM1361 565h1v1h-1zM1360 566h1v1h-1zM1206 567h1v1h-1zM1359 567h1v1h-1zM1207 568h1v1h-1zM1358 568h1v2h-1zM1208 569h1v1h-1zM1209 570h1v2h-1zM1357 570h1v1h-1zM1356 571h1v1h-1zM1210 572h1v1h-1zM1355 572h1v1h-1zM1211 573h1v1h-1zM1354 573h1v2h-1zM1212 574h1v1h-1zM1213 575h2v1h-2zM1353 575h1v1h-1zM1215 576h2v1h-2zM1351 576h2v1h-2zM1217 577h2v1h-2zM1348 577h3v1h-3zM1219 578h2v1h-2zM1341 578h7v1h-7zM1221 579h2v1h-2zM1329 579h12v1h-12z"/>
<g shape-rendering="crispEdges">
<rect x="0" y="440" width="1627" height="1" fill="#c0c0c0"/>
<rect x="0" y="356" width="1627" height="1" fill="#ff0000"/>
<rect x="0" y="388" width="1627" height="1" fill="#ff0000"/>
<rect x="0" y="410" width="1627" height="1" fill="#32cd32"/>
<rect x="0" y="470" width="1627" height="1" fill="#0000ff"/>
<rect x="0" y="501" width="1627" height="1" fill="#0000ff"/>
</g>
<rect x="1351" y="405" width="44" height="14" fill="#00ff00" shape-rendering="crispEdges"/>
<g clip-path="url(#cm)" shape-rendering="crispEdges">
<rect x="135" y="100" width="1" height="30" fill="#000"/>
<rect x="133" y="100" width="5" height="30" fill="#000"/>
<rect x="143" y="100" width="1" height="26" fill="#000"/>
<rect x="141" y="124" width="5" height="1" fill="#000"/>
<rect x="151" y="100" width="1" height="25" fill="#000"/>
<rect x="149.5" y="100.5" width="4" height="21" fill="#fff" stroke="#000" stroke-width="1"/>
<rect x="175" y="100" width="1" height="30" fill="#000"/>
<rect x="199" y="100" width="1" height="19" fill="#000"/>
<rect x="223" y="54" width="1" height="20" fill="#000"/>
<rect x="221.5" y="55.5" width="4" height="17" fill="#fff" stroke="#000" stroke-width="1"/>
<rect x="231" y="54" width="1" height="14" fill="#000"/>
<rect x="229.5" y="56.5" width="4" height="6" fill="#fff" stroke="#000" stroke-width="1"/>
<rect x="239" y="128" width="1" height="36" fill="#000"/>
<rect x="237.5" y="160.5" width="4" height="3" fill="#fff" stroke="#000" stroke-width="1"/>
<rect x="247" y="146" width="1" height="42" fill="#000"/>
<rect x="245" y="159" width="5" height="29" fill="#000"/>
<rect x="255" y="151" width="1" height="38" fill="#000"/>
<rect x="253.5" y="170.5" width="4" height="16" fill="#fff" stroke="#000" stroke-width="1"/>
<rect x="263" y="136" width="1" height="43" fill="#000"/>
<rect x="261.5" y="138.5" width="4" height="33" fill="#fff" stroke="#000" stroke-width="1"/>
<rect x="271" y="115" width="1" height="33" fill="#000"/>
<rect x="269.5" y="117.5" width="4" height="20" fill="#fff" stroke="#000" stroke-width="1"/>
<rect x="279" y="116" width="1" height="9" fill="#000"/>
<rect x="277" y="117" width="5" height="6" fill="#000"/>
<rect x="287" y="132" width="1" height="20" fill="#000"/>
<rect x="285.5" y="138.5" width="4" height="13" fill="#fff" stroke="#000" stroke-width="1"/>
<rect x="295" y="132" width="1" height="51" fill="#000"/>
<rect x="293" y="139" width="5" height="41" fill="#000"/>
<rect x="303" y="156" width="1" height="42" fill="#000"/>
<rect x="301" y="178" width="5" height="8" fill="#000"/>
<rect x="311" y="185" width="1" height="58" fill="#000"/>
<rect x="309" y="186" width="5" height="54" fill="#000"/>
<rect x="319" y="230" width="1" height="50" fill="#000"/>
<rect x="317" y="239" width="5" height="29" fill="#000"/>
<rect x="327" y="245" width="1" height="36" fill="#000"/>
<rect x="325.5" y="247.5" width="4" height="21" fill="#fff" stroke="#000" stroke-width="1"/>
<rect x="335" y="251" width="1" height="14" fill="#000"/>
<rect x="333" y="252" width="5" height="10" fill="#000"/>
<rect x="343" y="255" width="1" height="20" fill="#000"/>
<rect x="341" y="260" width="5" height="12" fill="#000"/>
<rect x="351" y="244" width="1" height="55" fill="#000"/>
<rect x="349" y="272" width="5" height="9" fill="#000"/>
<rect x="359" y="275" width="1" height="29" fill="#000"/>
<rect x="357" y="279" width="5" height="11" fill="#000"/>
<rect x="367" y="265" width="1" height="32" fill="#000"/>
<rect x="365.5" y="274.5" width="4" height="16" fill="#fff" stroke="#000" stroke-width="1"/>
<rect x="375" y="265" width="1" height="23" fill="#000"/>
<rect x="373" y="275" width="5" height="6" fill="#000"/>
<rect x="383" y="279" width="1" height="9" fill="#000"/>
<rect x="381" y="279" width="5" height="8" fill="#000"/>
<rect x="391" y="273" width="1" height="58" fill="#000"/>
<rect x="389" y="285" width="5" height="29" fill="#000"/>
<rect x="399" y="296" width="1" height="50" fill="#000"/>
<rect x="397" y="312" width="5" height="13" fill="#000"/>
<rect x="407" y="323" width="1" height="58" fill="#000"/>
<rect x="405" y="325" width="5" height="48" fill="#000"/>
<rect x="415" y="315" width="1" height="71" fill="#000"/>
<rect x="413.5" y="328.5" width="4" height="44" fill="#fff" stroke="#000" stroke-width="1"/>
<rect x="423" y="320" width="1" height="25" fill="#000"/>
<rect x="421.5" y="326.5" width="4" height="2" fill="#fff" stroke="#000" stroke-width="1"/>
<rect x="431" y="307" width="1" height="27" fill="#000"/>
<rect x="429.5" y="312.5" width="4" height="17" fill="#fff" stroke="#000" stroke-width="1"/>
<rect x="439" y="265" width="1" height="78" fill="#000"/>
<rect x="437" y="308" width="5" height="30" fill="#000"/>
<rect x="447" y="303" width="1" height="60" fill="#000"/>
<rect x="445.5" y="319.5" width="4" height="19" fill="#fff" stroke="#000" stroke-width="1"/>
<rect x="455" y="314" width="1" height="68" fill="#000"/>
<rect x="453" y="317" width="5" height="58" fill="#000"/>
<rect x="463" y="296" width="1" height="90" fill="#000"/>
<rect x="461.5" y="300.5" width="4" height="74" fill="#fff" stroke="#000" stroke-width="1"/>
<rect x="471" y="281" width="1" height="26" fill="#000"/>
<rect x="469.5" y="287.5" width="4" height="12" fill="#fff" stroke="#000" stroke-width="1"/>
<rect x="479" y="338" width="1" height="32" fill="#000"/>
<rect x="477" y="344" width="5" height="17" fill="#000"/>
<rect x="487" y="336" width="1" height="36" fill="#000"/>
<rect x="485.5" y="349.5" width="4" height="11" fill="#fff" stroke="#000" stroke-width="1"/>
<rect x="495" y="346" width="1" height="42" fill="#000"/>
<rect x="493" y="348" width="5" height="31" fill="#000"/>
<rect x="503" y="376" width="1" height="69" fill="#000"/>
<rect x="501" y="377" width="5" height="58" fill="#000"/>
<rect x="511" y="418" width="1" height="38" fill="#000"/>
<rect x="509.5" y="422.5" width="4" height="12" fill="#fff" stroke="#000" stroke-width="1"/>
<rect x="519" y="419" width="1" height="32" fill="#000"/>
<rect x="517" y="422" width="5" height="27" fill="#000"/>
<rect x="527" y="445" width="1" height="13" fill="#000"/>
<rect x="525" y="447" width="5" height="10" fill="#000"/>
<rect x="535" y="383" width="1" height="75" fill="#000"/>
<rect x="533.5" y="385.5" width="4" height="70" fill="#fff" stroke="#000" stroke-width="1"/>
<rect x="543" y="372" width="1" height="30" fill="#000"/>
<rect x="541.5" y="374.5" width="4" height="12" fill="#fff" stroke="#000" stroke-width="1"/>
<rect x="551" y="370" width="1" height="26" fill="#000"/>
<rect x="549" y="376" width="5" height="4" fill="#000"/>
<rect x="559" y="358" width="1" height="23" fill="#000"/>
<rect x="557.5" y="370.5" width="4" height="8" fill="#fff" stroke="#000" stroke-width="1"/>
<rect x="567" y="359" width="1" height="18" fill="#000"/>
<rect x="565.5" y="367.5" width="4" height="3" fill="#fff" stroke="#000" stroke-width="1"/>
<rect x="575" y="364" width="1" height="16" fill="#000"/>
<rect x="573" y="364" width="5" height="9" fill="#000"/>
<rect x="583" y="374" width="1" height="36" fill="#000"/>
<rect x="581" y="377" width="5" height="3" fill="#000"/>
<rect x="591" y="358" width="1" height="51" fill="#000"/>
<rect x="589" y="380" width="5" height="22" fill="#000"/>
<rect x="599" y="371" width="1" height="59" fill="#000"/>
<rect x="597.5" y="375.5" width="4" height="25" fill="#fff" stroke="#000" stroke-width="1"/>
<rect x="607" y="360" width="1" height="24" fill="#000"/>
<rect x="605.5" y="366.5" width="4" height="8" fill="#fff" stroke="#000" stroke-width="1"/>
<rect x="615" y="356" width="1" height="12" fill="#000"/>
<rect x="613.5" y="357.5" width="4" height="10" fill="#fff" stroke="#000" stroke-width="1"/>
<rect x="623" y="364" width="1" height="13" fill="#000"/>
<rect x="621" y="364" width="5" height="3" fill="#000"/>
<rect x="631" y="370" width="1" height="45" fill="#000"/>
<rect x="629" y="370" width="5" height="22" fill="#000"/>
<rect x="639" y="351" width="1" height="54" fill="#000"/>
<rect x="637.5" y="353.5" width="4" height="39" fill="#fff" stroke="#000" stroke-width="1"/>
<rect x="647" y="328" width="1" height="35" fill="#000"/>
<rect x="645.5" y="331.5" width="4" height="22" fill="#fff" stroke="#000" stroke-width="1"/>
<rect x="655" y="322" width="1" height="19" fill="#000"/>
<rect x="653" y="331" width="5" height="6" fill="#000"/>
<rect x="663" y="334" width="1" height="15" fill="#000"/>
<rect x="661" y="337" width="5" height="6" fill="#000"/>
<rect x="671" y="337" width="1" height="7" fill="#000"/>
<rect x="669" y="341" width="5" height="1" fill="#000"/>
<rect x="679" y="310" width="1" height="47" fill="#000"/>
<rect x="677" y="341" width="5" height="2" fill="#000"/>
<rect x="687" y="331" width="1" height="29" fill="#000"/>
<rect x="685" y="342" width="5" height="10" fill="#000"/>
<rect x="695" y="330" width="1" height="40" fill="#000"/>
<rect x="693.5" y="331.5" width="4" height="21" fill="#fff" stroke="#000" stroke-width="1"/>
<rect x="703" y="323" width="1" height="26" fill="#000"/>
<rect x="701" y="332" width="5" height="4" fill="#000"/>
<rect x="711" y="333" width="1" height="25" fill="#000"/>
<rect x="709" y="334" width="5" height="16" fill="#000"/>
<rect x="719" y="327" width="1" height="17" fill="#000"/>
<rect x="717.5" y="333.5" width="4" height="3" fill="#fff" stroke="#000" stroke-width="1"/>
<rect x="727" y="301" width="1" height="35" fill="#000"/>
<rect x="725" y="330" width="5" height="1" fill="#000"/>
<rect x="735" y="320" width="1" height="54" fill="#000"/>
<rect x="733" y="329" width="5" height="45" fill="#000"/>
<rect x="743" y="357" width="1" height="31" fill="#000"/>
<rect x="741.5" y="367.5" width="4" height="5" fill="#fff" stroke="#000" stroke-width="1"/>
<rect x="751" y="357" width="1" height="24" fill="#000"/>
<rect x="749" y="366" width="5" height="13" fill="#000"/>
<rect x="759" y="363" width="1" height="22" fill="#000"/>
<rect x="757.5" y="363.5" width="4" height="16" fill="#fff" stroke="#000" stroke-width="1"/>
<rect x="767" y="352" width="1" height="8" fill="#000"/>
<rect x="765.5" y="353.5" width="4" height="6" fill="#fff" stroke="#000" stroke-width="1"/>
<rect x="775" y="328" width="1" height="38" fill="#000"/>
<rect x="773.5" y="329.5" width="4" height="23" fill="#fff" stroke="#000" stroke-width="1"/>
<rect x="783" y="327" width="1" height="29" fill="#000"/>
<rect x="781.5" y="327.5" width="4" height="3" fill="#fff" stroke="#000" stroke-width="1"/>
<rect x="791" y="317" width="1" height="20" fill="#000"/>
<rect x="789.5" y="317.5" width="4" height="9" fill="#fff" stroke="#000" stroke-width="1"/>
<rect x="799" y="314" width="1" height="16" fill="#000"/>
<rect x="797.5" y="316.5" width="4" height="3" fill="#fff" stroke="#000" stroke-width="1"/>
<rect x="807" y="310" width="1" height="10" fill="#000"/>
<rect x="805" y="317" width="5" height="1" fill="#000"/>
<rect x="815" y="306" width="1" height="10" fill="#000"/>
<rect x="813" y="312" width="5" height="1" fill="#000"/>
<rect x="823" y="308" width="1" height="30" fill="#000"/>
<rect x="821" y="313" width="5" height="14" fill="#000"/>
<rect x="831" y="322" width="1" height="23" fill="#000"/>
<rect x="829" y="324" width="5" height="6" fill="#000"/>
<rect x="839" y="330" width="1" height="28" fill="#000"/>
<rect x="837" y="330" width="5" height="20" fill="#000"/>
<rect x="847" y="340" width="1" height="16" fill="#000"/>
<rect x="845.5" y="342.5" width="4" height="6" fill="#fff" stroke="#000" stroke-width="1"/>
<rect x="855" y="340" width="1" height="10" fill="#000"/>
<rect x="853" y="342" width="5" height="8" fill="#000"/>
<rect x="863" y="352" width="1" height="11" fill="#000"/>
<rect x="861" y="355" width="5" height="6" fill="#000"/>
<rect x="871" y="352" width="1" height="34" fill="#000"/>
<rect x="869" y="359" width="5" height="8" fill="#000"/>
<rect x="879" y="364" width="1" height="57" fill="#000"/>
<rect x="877" y="365" width="5" height="49" fill="#000"/>
<rect x="887" y="399" width="1" height="29" fill="#000"/>
<rect x="885.5" y="408.5" width="4" height="5" fill="#fff" stroke="#000" stroke-width="1"/>
<rect x="895" y="407" width="1" height="36" fill="#000"/>
<rect x="893" y="407" width="5" height="35" fill="#000"/>
<rect x="903" y="422" width="1" height="22" fill="#000"/>
<rect x="901.5" y="432.5" width="4" height="8" fill="#fff" stroke="#000" stroke-width="1"/>
<rect x="911" y="419" width="1" height="21" fill="#000"/>
<rect x="909.5" y="422.5" width="4" height="12" fill="#fff" stroke="#000" stroke-width="1"/>
<rect x="919" y="384" width="1" height="40" fill="#000"/>
<rect x="917.5" y="392.5" width="4" height="26" fill="#fff" stroke="#000" stroke-width="1"/>
<rect x="927" y="357" width="1" height="37" fill="#000"/>
<rect x="925.5" y="360.5" width="4" height="31" fill="#fff" stroke="#000" stroke-width="1"/>
<rect x="935" y="357" width="1" height="30" fill="#000"/>
<rect x="933" y="361" width="5" height="25" fill="#000"/>
<rect x="943" y="369" width="1" height="23" fill="#000"/>
<rect x="941.5" y="374.5" width="4" height="12" fill="#fff" stroke="#000" stroke-width="1"/>
<rect x="951" y="372" width="1" height="6" fill="#000"/>
<rect x="949.5" y="372.5" width="4" height="3" fill="#fff" stroke="#000" stroke-width="1"/>
<rect x="959" y="354" width="1" height="10" fill="#000"/>
<rect x="957" y="359" width="5" height="4" fill="#000"/>
<rect x="967" y="348" width="1" height="29" fill="#000"/>
<rect x="965.5" y="362.5" width="4" height="4" fill="#fff" stroke="#000" stroke-width="1"/>
<rect x="975" y="341" width="1" height="24" fill="#000"/>
<rect x="973.5" y="353.5" width="4" height="8" fill="#fff" stroke="#000" stroke-width="1"/>
<rect x="983" y="350" width="1" height="6" fill="#000"/>
<rect x="981" y="353" width="5" height="2" fill="#000"/>
<rect x="991" y="350" width="1" height="7" fill="#000"/>
<rect x="989.5" y="351.5" width="4" height="4" fill="#fff" stroke="#000" stroke-width="1"/>
<rect x="999" y="347" width="1" height="6" fill="#000"/>
<rect x="997.5" y="347.5" width="4" height="5" fill="#fff" stroke="#000" stroke-width="1"/>
<rect x="1007" y="347" width="1" height="7" fill="#000"/>
<rect x="1005" y="350" width="5" height="4" fill="#000"/>
<rect x="1015" y="334" width="1" height="23" fill="#000"/>
<rect x="1013.5" y="336.5" width="4" height="19" fill="#fff" stroke="#000" stroke-width="1"/>
<rect x="1023" y="334" width="1" height="40" fill="#000"/>
<rect x="1021" y="337" width="5" height="30" fill="#000"/>
<rect x="1031" y="349" width="1" height="22" fill="#000"/>
<rect x="1029" y="366" width="5" height="2" fill="#000"/>
<rect x="1039" y="360" width="1" height="21" fill="#000"/>
<rect x="1037" y="368" width="5" height="12" fill="#000"/>
<rect x="1047" y="378" width="1" height="28" fill="#000"/>
<rect x="1045" y="380" width="5" height="24" fill="#000"/>
<rect x="1055" y="390" width="1" height="16" fill="#000"/>
<rect x="1053.5" y="392.5" width="4" height="11" fill="#fff" stroke="#000" stroke-width="1"/>
<rect x="1063" y="387" width="1" height="43" fill="#000"/>
<rect x="1061" y="391" width="5" height="7" fill="#000"/>
<rect x="1071" y="395" width="1" height="44" fill="#000"/>
<rect x="1069" y="398" width="5" height="20" fill="#000"/>
<rect x="1079" y="412" width="1" height="25" fill="#000"/>
<rect x="1077" y="418" width="5" height="13" fill="#000"/>
<rect x="1087" y="421" width="1" height="45" fill="#000"/>
<rect x="1085" y="431" width="5" height="18" fill="#000"/>
<rect x="1095" y="420" width="1" height="32" fill="#000"/>
<rect x="1093.5" y="427.5" width="4" height="20" fill="#fff" stroke="#000" stroke-width="1"/>
<rect x="1103" y="421" width="1" height="12" fill="#000"/>
<rect x="1101" y="425" width="5" height="4" fill="#000"/>
<rect x="1111" y="426" width="1" height="22" fill="#000"/>
<rect x="1109" y="429" width="5" height="6" fill="#000"/>
<rect x="1119" y="416" width="1" height="19" fill="#000"/>
<rect x="1117.5" y="418.5" width="4" height="15" fill="#fff" stroke="#000" stroke-width="1"/>
<rect x="1127" y="404" width="1" height="19" fill="#000"/>
<rect x="1125.5" y="416.5" width="4" height="2" fill="#fff" stroke="#000" stroke-width="1"/>
<rect x="1135" y="408" width="1" height="26" fill="#000"/>
<rect x="1133" y="416" width="5" height="12" fill="#000"/>
<rect x="1143" y="410" width="1" height="26" fill="#000"/>
<rect x="1141.5" y="416.5" width="4" height="10" fill="#fff" stroke="#000" stroke-width="1"/>
<rect x="1151" y="410" width="1" height="50" fill="#000"/>
<rect x="1149" y="412" width="5" height="43" fill="#000"/>
<rect x="1159" y="443" width="1" height="36" fill="#000"/>
<rect x="1157" y="452" width="5" height="4" fill="#000"/>
<rect x="1167" y="452" width="1" height="95" fill="#000"/>
<rect x="1165" y="456" width="5" height="84" fill="#000"/>
<rect x="1175" y="511" width="1" height="33" fill="#000"/>
<rect x="1173.5" y="517.5" width="4" height="22" fill="#fff" stroke="#000" stroke-width="1"/>
<rect x="1183" y="508" width="1" height="28" fill="#000"/>
<rect x="1181" y="515" width="5" height="13" fill="#000"/>
<rect x="1191" y="525" width="1" height="15" fill="#000"/>
<rect x="1189" y="528" width="5" height="8" fill="#000"/>
<rect x="1199" y="550" width="1" height="16" fill="#000"/>
<rect x="1197" y="554" width="5" height="4" fill="#000"/>
<rect x="1207" y="532" width="1" height="33" fill="#000"/>
<rect x="1205" y="558" width="5" height="1" fill="#000"/>
<rect x="1215" y="527" width="1" height="36" fill="#000"/>
<rect x="1213.5" y="536.5" width="4" height="24" fill="#fff" stroke="#000" stroke-width="1"/>
<rect x="1223" y="512" width="1" height="32" fill="#000"/>
<rect x="1221.5" y="517.5" width="4" height="19" fill="#fff" stroke="#000" stroke-width="1"/>
<rect x="1231" y="511" width="1" height="29" fill="#000"/>
<rect x="1229" y="516" width="5" height="19" fill="#000"/>
<rect x="1239" y="522" width="1" height="27" fill="#000"/>
<rect x="1237.5" y="524.5" width="4" height="11" fill="#fff" stroke="#000" stroke-width="1"/>
<rect x="1247" y="520" width="1" height="18" fill="#000"/>
<rect x="1245" y="523" width="5" height="12" fill="#000"/>
<rect x="1255" y="527" width="1" height="41" fill="#000"/>
<rect x="1253" y="533" width="5" height="8" fill="#000"/>
<rect x="1263" y="515" width="1" height="41" fill="#000"/>
<rect x="1261.5" y="526.5" width="4" height="13" fill="#fff" stroke="#000" stroke-width="1"/>
<rect x="1271" y="496" width="1" height="33" fill="#000"/>
<rect x="1269.5" y="501.5" width="4" height="24" fill="#fff" stroke="#000" stroke-width="1"/>
<rect x="1279" y="478" width="1" height="23" fill="#000"/>
<rect x="1277.5" y="480.5" width="4" height="20" fill="#fff" stroke="#000" stroke-width="1"/>
<rect x="1287" y="464" width="1" height="20" fill="#000"/>
<rect x="1285.5" y="466.5" width="4" height="15" fill="#fff" stroke="#000" stroke-width="1"/>
<rect x="1295" y="457" width="1" height="8" fill="#000"/>
<rect x="1293" y="458" width="5" height="4" fill="#000"/>
<rect x="1303" y="448" width="1" height="26" fill="#000"/>
<rect x="1301.5" y="452.5" width="4" height="11" fill="#fff" stroke="#000" stroke-width="1"/>
<rect x="1311" y="432" width="1" height="38" fill="#000"/>
<rect x="1309.5" y="435.5" width="4" height="19" fill="#fff" stroke="#000" stroke-width="1"/>
<rect x="1319" y="433" width="1" height="52" fill="#000"/>
<rect x="1317" y="434" width="5" height="44" fill="#000"/>
<rect x="1327" y="451" width="1" height="33" fill="#000"/>
<rect x="1325.5" y="456.5" width="4" height="23" fill="#fff" stroke="#000" stroke-width="1"/>
<rect x="1335" y="448" width="1" height="19" fill="#000"/>
<rect x="1333.5" y="448.5" width="4" height="9" fill="#fff" stroke="#000" stroke-width="1"/>
<rect x="1343" y="454" width="1" height="15" fill="#000"/>
<rect x="1341.5" y="458.5" width="4" height="10" fill="#fff" stroke="#000" stroke-width="1"/>
<rect x="1351" y="436" width="1" height="26" fill="#000"/>
<rect x="1349.5" y="443.5" width="4" height="15" fill="#fff" stroke="#000" stroke-width="1"/>
<rect x="1359" y="436" width="1" height="26" fill="#000"/>
<rect x="1357.5" y="440.5" width="4" height="4" fill="#fff" stroke="#000" stroke-width="1"/>
<rect x="1367" y="437" width="1" height="23" fill="#000"/>
<rect x="1365" y="439" width="5" height="9" fill="#000"/>
<rect x="1375" y="434" width="1" height="24" fill="#000"/>
<rect x="1373.5" y="438.5" width="4" height="12" fill="#fff" stroke="#000" stroke-width="1"/>
<rect x="1383" y="421" width="1" height="21" fill="#000"/>
<rect x="1381" y="439" width="5" height="2" fill="#000"/>
</g>
<g shape-rendering="crispEdges"><rect x="1193.5" y="394.5" width="100" height="32" fill="#fff" stroke="#ff0000" stroke-width="1"/>
<rect x="1294" y="410" width="10" height="1" fill="#ff0000"/>
<rect x="1294.5" y="408.5" width="3" height="3" fill="#fff" stroke="#ff0000"/></g>
<text x="1196" y="420" font-size="26" fill="#ff0000" textLength="96" lengthAdjust="spacingAndGlyphs">20950.7</text>
<text x="1004.7" y="424.6" font-size="32" fill="#203020" textLength="162" lengthAdjust="spacingAndGlyphs" style="font-family:'Liberation Sans','Noto Sans CJK SC',sans-serif">多空转折点</text>
<text x="1003.5" y="423.4" font-size="32" fill="#00ff00" textLength="162" lengthAdjust="spacingAndGlyphs" style="font-family:'Liberation Sans','Noto Sans CJK SC',sans-serif">多空转折点</text>
<g shape-rendering="crispEdges">
<rect x="1622.5" y="354.5" width="4" height="4" fill="#fff" stroke="#ff0000"/>
<rect x="-0.5" y="354.5" width="4" height="4" fill="#fff" stroke="#ff0000"/>
<rect x="1622.5" y="386.5" width="4" height="4" fill="#fff" stroke="#ff0000"/>
<rect x="-0.5" y="386.5" width="4" height="4" fill="#fff" stroke="#ff0000"/>
<rect x="1622.5" y="408.5" width="4" height="4" fill="#fff" stroke="#32cd32"/>
<rect x="-0.5" y="408.5" width="4" height="4" fill="#fff" stroke="#32cd32"/>
<rect x="1622.5" y="468.5" width="4" height="4" fill="#fff" stroke="#0000ff"/>
<rect x="-0.5" y="468.5" width="4" height="4" fill="#fff" stroke="#0000ff"/>
<rect x="1622.5" y="499.5" width="4" height="4" fill="#fff" stroke="#0000ff"/>
<rect x="-0.5" y="499.5" width="4" height="4" fill="#fff" stroke="#0000ff"/>
</g>
<g font-size="9.6" fill="#000">
<rect x="1628" y="49" width="2" height="1" fill="#000" shape-rendering="crispEdges"/>
<text x="1633.4" y="53" textLength="32.2" lengthAdjust="spacingAndGlyphs">22498.0</text>
<rect x="1628" y="82" width="2" height="1" fill="#000" shape-rendering="crispEdges"/>
<text x="1633.4" y="86" textLength="32.2" lengthAdjust="spacingAndGlyphs">22358.0</text>
<rect x="1628" y="115" width="2" height="1" fill="#000" shape-rendering="crispEdges"/>
<text x="1633.4" y="119" textLength="32.2" lengthAdjust="spacingAndGlyphs">22218.0</text>
<rect x="1628" y="148" width="2" height="1" fill="#000" shape-rendering="crispEdges"/>
<text x="1633.4" y="152" textLength="32.2" lengthAdjust="spacingAndGlyphs">22074.0</text>
<rect x="1628" y="181" width="2" height="1" fill="#000" shape-rendering="crispEdges"/>
<text x="1633.4" y="185" textLength="32.2" lengthAdjust="spacingAndGlyphs">21934.0</text>
<rect x="1628" y="214" width="2" height="1" fill="#000" shape-rendering="crispEdges"/>
<text x="1633.4" y="218" textLength="32.2" lengthAdjust="spacingAndGlyphs">21790.0</text>
<rect x="1628" y="247" width="2" height="1" fill="#000" shape-rendering="crispEdges"/>
<text x="1633.4" y="251" textLength="32.2" lengthAdjust="spacingAndGlyphs">21650.0</text>
<rect x="1628" y="280" width="2" height="1" fill="#000" shape-rendering="crispEdges"/>
<text x="1633.4" y="284" textLength="32.2" lengthAdjust="spacingAndGlyphs">21506.0</text>
<rect x="1628" y="313" width="2" height="1" fill="#000" shape-rendering="crispEdges"/>
<text x="1633.4" y="317" textLength="32.2" lengthAdjust="spacingAndGlyphs">21366.0</text>
<rect x="1628" y="346" width="2" height="1" fill="#000" shape-rendering="crispEdges"/>
<text x="1633.4" y="350" textLength="32.2" lengthAdjust="spacingAndGlyphs">21226.0</text>
<rect x="1628" y="379" width="2" height="1" fill="#000" shape-rendering="crispEdges"/>
<text x="1633.4" y="383" textLength="32.2" lengthAdjust="spacingAndGlyphs">21082.0</text>
<rect x="1628" y="412" width="2" height="1" fill="#000" shape-rendering="crispEdges"/>
<text x="1633.4" y="416" textLength="32.2" lengthAdjust="spacingAndGlyphs">20942.0</text>
<rect x="1628" y="445" width="2" height="1" fill="#000" shape-rendering="crispEdges"/>
<text x="1633.4" y="449" textLength="32.2" lengthAdjust="spacingAndGlyphs">20798.0</text>
<rect x="1628" y="478" width="2" height="1" fill="#000" shape-rendering="crispEdges"/>
<text x="1633.4" y="482" textLength="32.2" lengthAdjust="spacingAndGlyphs">20658.0</text>
<rect x="1628" y="511" width="2" height="1" fill="#000" shape-rendering="crispEdges"/>
<text x="1633.4" y="515" textLength="32.2" lengthAdjust="spacingAndGlyphs">20514.0</text>
<rect x="1628" y="544" width="2" height="1" fill="#000" shape-rendering="crispEdges"/>
<text x="1633.4" y="548" textLength="32.2" lengthAdjust="spacingAndGlyphs">20374.0</text>
<rect x="1628" y="577" width="2" height="1" fill="#000" shape-rendering="crispEdges"/>
<text x="1633.4" y="581" textLength="32.2" lengthAdjust="spacingAndGlyphs">20234.0</text>
</g>
<g font-size="9.6" fill="#fff">
<rect x="1629" y="350" width="41" height="11" fill="#ff0000" shape-rendering="crispEdges"/>
<text x="1633.4" y="359" textLength="32.2" lengthAdjust="spacingAndGlyphs">21182.1</text>
<rect x="1629" y="382" width="41" height="11" fill="#ff0000" shape-rendering="crispEdges"/>
<text x="1633.4" y="391" textLength="32.2" lengthAdjust="spacingAndGlyphs">21045.0</text>
<rect x="1629" y="404" width="41" height="11" fill="#32cd32" shape-rendering="crispEdges"/>
<text x="1633.4" y="413" textLength="32.2" lengthAdjust="spacingAndGlyphs">20950.7</text>
<rect x="1629" y="464" width="41" height="11" fill="#0000ff" shape-rendering="crispEdges"/>
<text x="1633.4" y="473" textLength="32.2" lengthAdjust="spacingAndGlyphs">20693.5</text>
<rect x="1629" y="495" width="41" height="11" fill="#0000ff" shape-rendering="crispEdges"/>
<text x="1633.4" y="504" textLength="32.2" lengthAdjust="spacingAndGlyphs">20560.6</text>
<rect x="1629" y="435" width="41" height="11" fill="#000000" shape-rendering="crispEdges"/>
<text x="1633.4" y="444" textLength="32.2" lengthAdjust="spacingAndGlyphs">20822.5</text>
</g>
<path d="M1393 28h9v1h-1v1h-1v1h-1v1h-1v1h-1v-1h-1v-1h-1v-1h-1v-1h-1z" fill="#c0c0c0" shape-rendering="crispEdges"/>
<path d="M2 38.2 L9.3 38.2 L5.6 33.8 Z" fill="#000"/>
<text x="14" y="39" font-size="10" fill="#000" textLength="196" lengthAdjust="spacingAndGlyphs" xml:space="preserve">JPN225-,H4  20825.0 20902.5 20815.0 20822.5</text>
<g shape-rendering="crispEdges" fill="#c0c0c0">
<rect x="7" y="603" width="1" height="19"/>
<rect x="15" y="601" width="1" height="21"/>
<rect x="23" y="597" width="1" height="25"/>
<rect x="31" y="594" width="1" height="28"/>
<rect x="39" y="593" width="1" height="29"/>
<rect x="47" y="593" width="1" height="29"/>
<rect x="55" y="595" width="1" height="27"/>
<rect x="63" y="596" width="1" height="26"/>
<rect x="71" y="599" width="1" height="23"/>
<rect x="79" y="600" width="1" height="22"/>
<rect x="87" y="599" width="1" height="23"/>
<rect x="95" y="599" width="1" height="23"/>
<rect x="103" y="597" width="1" height="25"/>
<rect x="111" y="598" width="1" height="24"/>
<rect x="119" y="602" width="1" height="20"/>
<rect x="127" y="604" width="1" height="18"/>
<rect x="135" y="615" width="1" height="7"/>
<rect x="143" y="620" width="1" height="2"/>
<rect x="151" y="620" width="1" height="2"/>
<rect x="159" y="620" width="1" height="2"/>
<rect x="167" y="620" width="1" height="2"/>
<rect x="175" y="621" width="1" height="5"/>
<rect x="183" y="621" width="1" height="5"/>
<rect x="191" y="621" width="1" height="6"/>
<rect x="199" y="621" width="1" height="6"/>
<rect x="207" y="621" width="1" height="3"/>
<rect x="215" y="620" width="1" height="2"/>
<rect x="223" y="615" width="1" height="7"/>
<rect x="231" y="609" width="1" height="13"/>
<rect x="239" y="621" width="1" height="2"/>
<rect x="247" y="621" width="1" height="21"/>
<rect x="255" y="621" width="1" height="31"/>
<rect x="263" y="621" width="1" height="33"/>
<rect x="271" y="621" width="1" height="29"/>
<rect x="279" y="621" width="1" height="27"/>
<rect x="287" y="621" width="1" height="29"/>
<rect x="295" y="621" width="1" height="38"/>
<rect x="303" y="621" width="1" height="45"/>
<rect x="311" y="621" width="1" height="61"/>
<rect x="319" y="621" width="1" height="79"/>
<rect x="327" y="621" width="1" height="88"/>
<rect x="335" y="621" width="1" height="96"/>
<rect x="343" y="621" width="1" height="104"/>
<rect x="351" y="621" width="1" height="111"/>
<rect x="359" y="621" width="1" height="116"/>
<rect x="367" y="621" width="1" height="117"/>
<rect x="375" y="621" width="1" height="117"/>
<rect x="383" y="621" width="1" height="116"/>
<rect x="391" y="621" width="1" height="120"/>
<rect x="399" y="621" width="1" height="124"/>
<rect x="407" y="621" width="1" height="134"/>
<rect x="415" y="621" width="1" height="133"/>
<rect x="423" y="621" width="1" height="129"/>
<rect x="431" y="621" width="1" height="124"/>
<rect x="439" y="621" width="1" height="122"/>
<rect x="447" y="621" width="1" height="116"/>
<rect x="455" y="621" width="1" height="120"/>
<rect x="463" y="621" width="1" height="108"/>
<rect x="471" y="621" width="1" height="94"/>
<rect x="479" y="621" width="1" height="97"/>
<rect x="487" y="621" width="1" height="96"/>
<rect x="495" y="621" width="1" height="99"/>
<rect x="503" y="621" width="1" height="113"/>
<rect x="511" y="621" width="1" height="119"/>
<rect x="519" y="621" width="1" height="127"/>
<rect x="527" y="621" width="1" height="134"/>
<rect x="535" y="621" width="1" height="125"/>
<rect x="543" y="621" width="1" height="114"/>
<rect x="551" y="621" width="1" height="104"/>
<rect x="559" y="621" width="1" height="94"/>
<rect x="567" y="621" width="1" height="85"/>
<rect x="575" y="621" width="1" height="77"/>
<rect x="583" y="621" width="1" height="72"/>
<rect x="591" y="621" width="1" height="71"/>
<rect x="599" y="621" width="1" height="64"/>
<rect x="607" y="621" width="1" height="57"/>
<rect x="615" y="621" width="1" height="49"/>
<rect x="623" y="621" width="1" height="43"/>
<rect x="631" y="621" width="1" height="43"/>
<rect x="639" y="621" width="1" height="35"/>
<rect x="647" y="621" width="1" height="25"/>
<rect x="655" y="621" width="1" height="16"/>
<rect x="663" y="621" width="1" height="12"/>
<rect x="671" y="621" width="1" height="8"/>
<rect x="679" y="621" width="1" height="4"/>
<rect x="687" y="621" width="1" height="3"/>
<rect x="695" y="621" width="1" height="1"/>
<rect x="703" y="618" width="1" height="4"/>
<rect x="711" y="619" width="1" height="3"/>
<rect x="719" y="616" width="1" height="6"/>
<rect x="727" y="613" width="1" height="9"/>
<rect x="735" y="620" width="1" height="2"/>
<rect x="743" y="621" width="1" height="2"/>
<rect x="751" y="621" width="1" height="7"/>
<rect x="759" y="621" width="1" height="8"/>
<rect x="767" y="621" width="1" height="7"/>
<rect x="775" y="620" width="1" height="2"/>
<rect x="783" y="618" width="1" height="4"/>
<rect x="791" y="613" width="1" height="9"/>
<rect x="799" y="608" width="1" height="14"/>
<rect x="807" y="605" width="1" height="17"/>
<rect x="815" y="602" width="1" height="20"/>
<rect x="823" y="602" width="1" height="20"/>
<rect x="831" y="603" width="1" height="19"/>
<rect x="839" y="608" width="1" height="14"/>
<rect x="847" y="611" width="1" height="11"/>
<rect x="855" y="614" width="1" height="8"/>
<rect x="863" y="619" width="1" height="3"/>
<rect x="871" y="621" width="1" height="3"/>
<rect x="879" y="621" width="1" height="15"/>
<rect x="887" y="621" width="1" height="25"/>
<rect x="895" y="621" width="1" height="38"/>
<rect x="903" y="621" width="1" height="47"/>
<rect x="911" y="621" width="1" height="51"/>
<rect x="919" y="621" width="1" height="48"/>
<rect x="927" y="621" width="1" height="39"/>
<rect x="935" y="621" width="1" height="35"/>
<rect x="943" y="621" width="1" height="31"/>
<rect x="951" y="621" width="1" height="26"/>
<rect x="959" y="621" width="1" height="21"/>
<rect x="967" y="621" width="1" height="15"/>
<rect x="975" y="621" width="1" height="10"/>
<rect x="983" y="621" width="1" height="6"/>
<rect x="991" y="620" width="1" height="2"/>
<rect x="999" y="619" width="1" height="3"/>
<rect x="1007" y="618" width="1" height="4"/>
<rect x="1015" y="613" width="1" height="9"/>
<rect x="1023" y="615" width="1" height="7"/>
<rect x="1031" y="617" width="1" height="5"/>
<rect x="1039" y="620" width="1" height="2"/>
<rect x="1047" y="621" width="1" height="7"/>
<rect x="1055" y="621" width="1" height="11"/>
<rect x="1063" y="621" width="1" height="15"/>
<rect x="1071" y="621" width="1" height="22"/>
<rect x="1079" y="621" width="1" height="29"/>
<rect x="1087" y="621" width="1" height="38"/>
<rect x="1095" y="621" width="1" height="42"/>
<rect x="1103" y="621" width="1" height="43"/>
<rect x="1111" y="621" width="1" height="45"/>
<rect x="1119" y="621" width="1" height="43"/>
<rect x="1127" y="621" width="1" height="41"/>
<rect x="1135" y="621" width="1" height="40"/>
<rect x="1143" y="621" width="1" height="37"/>
<rect x="1151" y="621" width="1" height="42"/>
<rect x="1159" y="621" width="1" height="46"/>
<rect x="1167" y="621" width="1" height="65"/>
<rect x="1175" y="621" width="1" height="74"/>
<rect x="1183" y="621" width="1" height="83"/>
<rect x="1191" y="621" width="1" height="91"/>
<rect x="1199" y="621" width="1" height="99"/>
<rect x="1207" y="621" width="1" height="106"/>
<rect x="1215" y="621" width="1" height="106"/>
<rect x="1223" y="621" width="1" height="99"/>
<rect x="1231" y="621" width="1" height="98"/>
<rect x="1239" y="621" width="1" height="93"/>
<rect x="1247" y="621" width="1" height="91"/>
<rect x="1255" y="621" width="1" height="88"/>
<rect x="1263" y="621" width="1" height="83"/>
<rect x="1271" y="621" width="1" height="73"/>
<rect x="1279" y="621" width="1" height="59"/>
<rect x="1287" y="621" width="1" height="47"/>
<rect x="1295" y="621" width="1" height="35"/>
<rect x="1303" y="621" width="1" height="23"/>
<rect x="1311" y="621" width="1" height="10"/>
<rect x="1319" y="621" width="1" height="9"/>
<rect x="1327" y="621" width="1" height="3"/>
<rect x="1335" y="619" width="1" height="3"/>
<rect x="1343" y="616" width="1" height="6"/>
<rect x="1351" y="611" width="1" height="11"/>
<rect x="1359" y="607" width="1" height="15"/>
<rect x="1367" y="605" width="1" height="17"/>
<rect x="1375" y="602" width="1" height="20"/>
<rect x="1383" y="600" width="1" height="22"/>
</g>
<path fill="#ff0000" shape-rendering="crispEdges" d="M72 596h1v1h-1zM76 596h3v1h-3zM82 596h3v1h-3zM88 596h3v1h-3zM94 596h3v1h-3zM100 596h3v1h-3zM106 596h3v1h-3zM64 597h3v1h-3zM70 597h2v1h-2zM112 597h3v1h-3zM118 597h3v1h-3zM124 597h1v1h-1zM58 598h3v1h-3zM125 598h2v1h-2zM130 598h2v1h-2zM52 599h3v1h-3zM132 599h1v1h-1zM48 600h1v1h-1zM136 600h2v1h-2zM46 601h2v1h-2zM138 601h1v1h-1zM142 602h2v1h-2zM40 603h3v1h-3zM144 603h1v1h-1zM34 605h3v1h-3zM148 605h2v1h-2zM150 606h1v1h-1zM154 606h1v1h-1zM851 606h3v1h-3zM857 606h3v1h-3zM30 607h1v1h-1zM155 607h2v1h-2zM160 607h1v1h-1zM845 607h3v1h-3zM863 607h3v1h-3zM28 608h2v1h-2zM161 608h2v1h-2zM839 608h3v1h-3zM869 608h1v1h-1zM833 609h3v1h-3zM870 609h2v1h-2zM22 610h3v1h-3zM166 610h2v1h-2zM168 611h1v1h-1zM827 611h3v1h-3zM875 611h2v1h-2zM18 612h1v1h-1zM877 612h1v1h-1zM16 613h2v1h-2zM172 613h1v1h-1zM822 613h2v1h-2zM1379 613h3v1h-3zM173 614h2v1h-2zM821 614h1v1h-1zM881 614h2v1h-2zM10 615h3v1h-3zM883 615h1v1h-1zM1374 615h2v1h-2zM5 616h2v1h-2zM178 616h2v1h-2zM815 616h3v1h-3zM1373 616h1v1h-1zM4 617h1v1h-1zM180 617h1v1h-1zM887 617h1v1h-1zM0 618h1v1h-1zM184 618h1v1h-1zM809 618h3v1h-3zM888 618h1v1h-1zM1369 618h1v1h-1zM185 619h2v1h-2zM737 619h3v1h-3zM743 619h3v1h-3zM749 619h3v1h-3zM805 619h1v1h-1zM889 619h1v1h-1zM1045 619h1v1h-1zM1049 619h1v1h-1zM1368 619h1v1h-1zM725 620h3v1h-3zM731 620h3v1h-3zM755 620h3v1h-3zM761 620h3v1h-3zM803 620h2v1h-2zM1039 620h1v1h-1zM1043 620h2v1h-2zM1050 620h2v1h-2zM1055 620h1v1h-1zM1367 620h1v1h-1zM190 621h3v1h-3zM767 621h3v1h-3zM773 621h2v1h-2zM791 621h3v1h-3zM797 621h3v1h-3zM1033 621h1v1h-1zM1037 621h2v1h-2zM1056 621h2v1h-2zM232 622h3v1h-3zM238 622h3v1h-3zM721 622h1v1h-1zM775 622h1v1h-1zM779 622h3v1h-3zM785 622h3v1h-3zM893 622h1v1h-1zM1031 622h2v1h-2zM1061 622h3v1h-3zM1363 622h1v1h-1zM196 623h3v1h-3zM220 623h3v1h-3zM226 623h3v1h-3zM244 623h3v1h-3zM719 623h2v1h-2zM894 623h1v1h-1zM1026 623h2v1h-2zM1067 623h1v1h-1zM1362 623h1v1h-1zM202 624h3v1h-3zM214 624h3v1h-3zM250 624h2v1h-2zM895 624h1v1h-1zM1025 624h1v1h-1zM1068 624h2v1h-2zM1361 624h1v1h-1zM208 625h3v1h-3zM252 625h1v1h-1zM715 625h1v1h-1zM1021 625h1v1h-1zM1073 625h2v1h-2zM256 626h2v1h-2zM713 626h2v1h-2zM1019 626h2v1h-2zM1075 626h1v1h-1zM258 627h1v1h-1zM899 627h1v1h-1zM262 628h1v1h-1zM709 628h1v1h-1zM900 628h1v1h-1zM1015 628h1v1h-1zM1079 628h1v1h-1zM1357 628h1v1h-1zM263 629h2v1h-2zM707 629h2v1h-2zM901 629h1v1h-1zM1013 629h2v1h-2zM1080 629h1v1h-1zM1356 629h1v1h-1zM1081 630h1v1h-1zM1355 630h1v1h-1zM268 631h3v1h-3zM703 631h1v1h-1zM701 632h2v1h-2zM1008 632h2v1h-2zM274 633h1v1h-1zM905 633h1v1h-1zM1007 633h1v1h-1zM1085 633h2v1h-2zM1351 633h1v1h-1zM275 634h2v1h-2zM906 634h1v1h-1zM1087 634h1v1h-1zM1350 634h1v1h-1zM280 635h1v1h-1zM697 635h1v1h-1zM907 635h1v1h-1zM1003 635h1v1h-1zM1349 635h1v1h-1zM281 636h2v1h-2zM695 636h2v1h-2zM1001 636h2v1h-2zM1091 636h1v1h-1zM1092 637h2v1h-2zM286 638h3v1h-3zM911 638h1v1h-1zM997 638h1v1h-1zM691 639h1v1h-1zM912 639h1v1h-1zM995 639h2v1h-2zM1345 639h1v1h-1zM292 640h1v1h-1zM689 640h2v1h-2zM913 640h1v1h-1zM1097 640h2v1h-2zM1344 640h1v1h-1zM293 641h2v1h-2zM991 641h1v1h-1zM1099 641h1v1h-1zM1343 641h1v1h-1zM990 642h1v1h-1zM684 643h2v1h-2zM917 643h1v1h-1zM989 643h1v1h-1zM298 644h1v1h-1zM683 644h1v1h-1zM918 644h1v1h-1zM1103 644h1v1h-1zM299 645h1v1h-1zM919 645h1v1h-1zM985 645h1v1h-1zM1104 645h2v1h-2zM1340 645h1v1h-1zM300 646h1v1h-1zM679 646h1v1h-1zM984 646h1v1h-1zM1339 646h1v1h-1zM678 647h1v1h-1zM923 647h1v1h-1zM983 647h1v1h-1zM1109 647h1v1h-1zM1338 647h1v1h-1zM677 648h1v1h-1zM924 648h2v1h-2zM1110 648h2v1h-2zM304 649h1v1h-1zM979 649h1v1h-1zM305 650h1v1h-1zM978 650h1v1h-1zM1115 650h1v1h-1zM306 651h1v1h-1zM673 651h1v1h-1zM929 651h2v1h-2zM977 651h1v1h-1zM1116 651h2v1h-2zM1334 651h1v1h-1zM671 652h2v1h-2zM931 652h1v1h-1zM1333 652h1v1h-1zM972 653h2v1h-2zM1121 653h1v1h-1zM1332 653h1v1h-1zM310 654h1v1h-1zM971 654h1v1h-1zM1122 654h2v1h-2zM311 655h1v1h-1zM667 655h1v1h-1zM935 655h1v1h-1zM967 655h1v1h-1zM312 656h1v1h-1zM666 656h1v1h-1zM936 656h2v1h-2zM965 656h2v1h-2zM1127 656h1v1h-1zM665 657h1v1h-1zM941 657h1v1h-1zM961 657h1v1h-1zM1128 657h2v1h-2zM1329 657h1v1h-1zM942 658h2v1h-2zM947 658h1v1h-1zM955 658h1v1h-1zM959 658h2v1h-2zM1328 658h1v1h-1zM316 659h2v1h-2zM948 659h2v1h-2zM953 659h2v1h-2zM1133 659h3v1h-3zM1327 659h1v1h-1zM318 660h1v1h-1zM661 660h1v1h-1zM1139 660h2v1h-2zM660 661h1v1h-1zM1141 661h1v1h-1zM1145 661h3v1h-3zM659 662h1v1h-1zM1151 662h3v1h-3zM1157 663h3v1h-3zM1323 663h1v1h-1zM322 664h1v1h-1zM1163 664h1v1h-1zM1322 664h1v2h-1zM323 665h1v1h-1zM655 665h1v1h-1zM1164 665h2v1h-2zM324 666h1v1h-1zM654 666h1v1h-1zM653 667h1v1h-1zM1169 667h3v1h-3zM1175 669h1v1h-1zM1318 669h1v1h-1zM328 670h1v1h-1zM648 670h2v1h-2zM1176 670h1v1h-1zM1317 670h1v2h-1zM329 671h1v1h-1zM647 671h1v1h-1zM1177 671h1v1h-1zM330 672h1v1h-1zM1181 673h1v1h-1zM643 674h1v1h-1zM1182 674h2v1h-2zM334 675h2v1h-2zM642 675h1v1h-1zM1313 675h1v1h-1zM336 676h1v1h-1zM641 676h1v1h-1zM1312 676h1v2h-1zM1187 677h1v1h-1zM1188 678h2v1h-2zM636 679h2v1h-2zM339 680h1v1h-1zM635 680h1v1h-1zM340 681h1v1h-1zM1193 681h1v1h-1zM1308 681h1v1h-1zM341 682h1v1h-1zM1194 682h2v1h-2zM1307 682h1v1h-1zM631 683h1v1h-1zM1306 683h1v1h-1zM630 684h1v1h-1zM629 685h1v1h-1zM344 686h1v1h-1zM1199 686h1v1h-1zM345 687h1v1h-1zM1200 687h1v1h-1zM1302 687h1v1h-1zM346 688h1v1h-1zM624 688h2v1h-2zM1201 688h1v1h-1zM1301 688h1v1h-1zM623 689h1v1h-1zM1300 689h1v1h-1zM349 692h1v1h-1zM619 692h1v1h-1zM1205 692h1v1h-1zM350 693h1v1h-1zM618 693h1v1h-1zM1206 693h1v1h-1zM1296 693h1v1h-1zM351 694h1v1h-1zM617 694h1v1h-1zM1207 694h1v1h-1zM1295 694h1v1h-1zM1294 695h1v1h-1zM1211 697h1v1h-1zM354 698h1v1h-1zM613 698h1v1h-1zM1212 698h1v1h-1zM355 699h1v1h-1zM612 699h1v1h-1zM1213 699h1v1h-1zM1291 699h1v1h-1zM356 700h1v1h-1zM611 700h1v1h-1zM1290 700h1v1h-1zM1289 701h1v1h-1zM1217 702h2v1h-2zM1219 703h1v1h-1zM360 704h1v1h-1zM607 704h1v1h-1zM1285 704h1v1h-1zM361 705h1v1h-1zM606 705h1v1h-1zM1283 705h2v1h-2zM362 706h1v1h-1zM605 706h1v1h-1zM1223 706h1v1h-1zM1224 707h2v1h-2zM1279 707h1v1h-1zM1277 708h2v1h-2zM601 709h1v1h-1zM365 710h1v1h-1zM600 710h1v1h-1zM1229 710h2v1h-2zM366 711h1v1h-1zM599 711h1v1h-1zM1231 711h1v1h-1zM367 712h1v1h-1zM1273 712h1v1h-1zM1235 713h1v1h-1zM1272 713h1v1h-1zM1236 714h2v1h-2zM1271 714h1v1h-1zM595 715h1v1h-1zM1241 715h1v1h-1zM371 716h1v1h-1zM594 716h1v1h-1zM1242 716h2v1h-2zM1265 716h3v1h-3zM372 717h2v1h-2zM593 717h1v1h-1zM1247 717h3v1h-3zM1259 717h3v1h-3zM1253 718h3v1h-3zM589 720h1v1h-1zM377 721h1v1h-1zM588 721h1v1h-1zM378 722h1v1h-1zM587 722h1v1h-1zM379 723h1v1h-1zM383 725h1v1h-1zM582 725h2v1h-2zM384 726h2v1h-2zM581 726h1v1h-1zM389 728h1v1h-1zM503 728h3v1h-3zM509 728h3v1h-3zM515 728h1v1h-1zM390 729h2v1h-2zM497 729h3v1h-3zM516 729h2v1h-2zM521 729h1v1h-1zM577 729h1v1h-1zM492 730h2v1h-2zM522 730h2v1h-2zM575 730h2v1h-2zM395 731h1v1h-1zM491 731h1v1h-1zM527 731h2v1h-2zM396 732h2v1h-2zM529 732h1v1h-1zM571 732h1v1h-1zM485 733h3v1h-3zM533 733h2v1h-2zM569 733h2v1h-2zM535 734h1v1h-1zM539 734h1v1h-1zM565 734h1v1h-1zM401 735h1v1h-1zM481 735h1v1h-1zM540 735h2v1h-2zM545 735h2v1h-2zM563 735h2v1h-2zM402 736h2v1h-2zM479 736h2v1h-2zM547 736h1v1h-1zM551 736h3v1h-3zM557 736h3v1h-3zM475 738h1v1h-1zM407 739h1v1h-1zM473 739h2v1h-2zM408 740h2v1h-2zM413 741h2v1h-2zM469 741h1v1h-1zM415 742h1v1h-1zM467 742h2v1h-2zM419 743h3v1h-3zM425 744h2v1h-2zM462 744h2v1h-2zM427 745h1v1h-1zM431 745h3v1h-3zM461 745h1v1h-1zM437 746h3v1h-3zM443 746h3v1h-3zM449 746h3v1h-3zM455 746h3v1h-3z"/>
<text x="3" y="595" font-size="9.5" fill="#000" textLength="118" lengthAdjust="spacingAndGlyphs">MACD(12,26,9) 38.78 16.61</text>
<g font-size="9.6" fill="#000">
<text x="1630.5" y="593" textLength="18.5" lengthAdjust="spacingAndGlyphs">65.9</text>
<text x="1630.5" y="625" textLength="18.5" lengthAdjust="spacingAndGlyphs">0.00</text>
<text x="1630.5" y="762" textLength="31.5" lengthAdjust="spacingAndGlyphs">-248.75</text>
<rect x="1628" y="621" width="2" height="1" shape-rendering="crispEdges"/>
</g>
<g shape-rendering="crispEdges" stroke="#c0c0c0" stroke-width="1" stroke-dasharray="3,3">
<line x1="0" y1="800.5" x2="1627" y2="800.5"/>
<line x1="0" y1="847.5" x2="1627" y2="847.5"/>
<line x1="0" y1="903.5" x2="1627" y2="903.5"/>
</g>
<path fill="#1e90ff" shape-rendering="crispEdges" d="M6 824h2v1h-2zM4 825h2v1h-2zM8 825h1v1h-1zM30 825h2v1h-2zM2 826h2v1h-2zM9 826h1v2h-1zM28 826h2v1h-2zM32 826h1v1h-1zM0 827h2v1h-2zM25 827h3v1h-3zM33 827h1v1h-1zM10 828h1v1h-1zM23 828h2v1h-2zM34 828h1v1h-1zM103 828h1v1h-1zM230 828h2v1h-2zM11 829h1v1h-1zM22 829h1v1h-1zM35 829h1v1h-1zM102 829h1v1h-1zM104 829h1v1h-1zM226 829h4v1h-4zM231 829h1v2h-1zM12 830h1v1h-1zM20 830h2v1h-2zM36 830h1v1h-1zM100 830h2v1h-2zM105 830h1v2h-1zM223 830h3v1h-3zM1311 830h1v1h-1zM13 831h1v2h-1zM19 831h1v1h-1zM37 831h1v1h-1zM87 831h2v1h-2zM99 831h1v1h-1zM221 831h2v1h-2zM232 831h1v6h-1zM1310 831h2v1h-2zM18 832h1v1h-1zM38 832h1v1h-1zM86 832h1v1h-1zM89 832h3v1h-3zM98 832h1v1h-1zM106 832h1v1h-1zM220 832h1v1h-1zM1308 832h2v1h-2zM1312 832h1v2h-1zM14 833h1v1h-1zM16 833h2v1h-2zM39 833h2v1h-2zM85 833h1v2h-1zM92 833h2v1h-2zM96 833h2v1h-2zM107 833h1v1h-1zM218 833h2v1h-2zM814 833h2v1h-2zM1307 833h1v1h-1zM15 834h1v1h-1zM41 834h3v1h-3zM94 834h2v1h-2zM108 834h1v1h-1zM216 834h2v1h-2zM796 834h8v1h-8zM810 834h4v1h-4zM816 834h1v1h-1zM1015 834h1v1h-1zM1306 834h1v1h-1zM1313 834h1v2h-1zM44 835h2v1h-2zM84 835h1v1h-1zM109 835h1v2h-1zM215 835h1v1h-1zM790 835h6v1h-6zM804 835h6v1h-6zM817 835h1v1h-1zM1014 835h1v1h-1zM1016 835h1v2h-1zM1304 835h2v1h-2zM46 836h3v1h-3zM83 836h1v1h-1zM214 836h1v1h-1zM788 836h2v1h-2zM818 836h1v1h-1zM1013 836h1v1h-1zM1302 836h2v1h-2zM1314 836h1v2h-1zM1356 836h5v1h-5zM1375 836h5v1h-5zM49 837h2v1h-2zM82 837h1v1h-1zM110 837h1v1h-1zM213 837h1v2h-1zM233 837h1v5h-1zM785 837h3v1h-3zM819 837h1v1h-1zM1012 837h1v1h-1zM1017 837h1v2h-1zM1300 837h2v1h-2zM1351 837h5v1h-5zM1361 837h2v1h-2zM1373 837h2v1h-2zM1380 837h4v1h-4zM51 838h2v1h-2zM62 838h4v1h-4zM81 838h1v2h-1zM111 838h1v1h-1zM780 838h5v1h-5zM820 838h1v1h-1zM998 838h3v1h-3zM1011 838h1v1h-1zM1297 838h3v1h-3zM1315 838h1v3h-1zM1332 838h5v1h-5zM1349 838h2v1h-2zM1363 838h2v1h-2zM1371 838h2v1h-2zM53 839h2v1h-2zM58 839h4v1h-4zM66 839h4v1h-4zM112 839h1v2h-1zM212 839h1v1h-1zM775 839h5v1h-5zM821 839h1v1h-1zM994 839h4v1h-4zM1001 839h2v1h-2zM1010 839h1v1h-1zM1018 839h1v2h-1zM1292 839h5v1h-5zM1327 839h5v1h-5zM1337 839h2v1h-2zM1348 839h1v1h-1zM1365 839h2v1h-2zM1369 839h2v1h-2zM55 840h3v1h-3zM70 840h6v1h-6zM80 840h1v1h-1zM211 840h1v1h-1zM774 840h1v1h-1zM822 840h1v1h-1zM988 840h6v1h-6zM1003 840h2v1h-2zM1009 840h1v1h-1zM1287 840h5v1h-5zM1326 840h1v1h-1zM1339 840h2v1h-2zM1346 840h2v1h-2zM1367 840h2v1h-2zM76 841h4v1h-4zM113 841h1v1h-1zM210 841h1v1h-1zM647 841h5v1h-5zM695 841h5v1h-5zM724 841h4v1h-4zM773 841h1v1h-1zM823 841h5v1h-5zM974 841h14v1h-14zM1005 841h2v1h-2zM1008 841h1v1h-1zM1019 841h1v2h-1zM1285 841h2v1h-2zM1316 841h1v2h-1zM1325 841h1v1h-1zM1341 841h2v1h-2zM1344 841h2v1h-2zM114 842h1v1h-1zM209 842h1v2h-1zM234 842h1v5h-1zM646 842h1v1h-1zM652 842h6v1h-6zM694 842h1v1h-1zM700 842h4v1h-4zM719 842h5v1h-5zM727 842h1v1h-1zM772 842h1v1h-1zM828 842h4v1h-4zM972 842h2v1h-2zM1007 842h1v1h-1zM1284 842h1v1h-1zM1324 842h1v1h-1zM1343 842h1v1h-1zM115 843h1v2h-1zM127 843h1v1h-1zM644 843h2v1h-2zM658 843h4v1h-4zM693 843h1v1h-1zM704 843h2v1h-2zM718 843h1v1h-1zM728 843h1v2h-1zM771 843h1v1h-1zM832 843h1v1h-1zM969 843h3v1h-3zM1020 843h1v2h-1zM1282 843h2v1h-2zM1317 843h1v2h-1zM1323 843h1v2h-1zM126 844h2v1h-2zM208 844h1v1h-1zM643 844h1v1h-1zM662 844h19v1h-19zM692 844h1v1h-1zM706 844h1v1h-1zM716 844h2v1h-2zM770 844h1v1h-1zM833 844h1v2h-1zM927 844h1v1h-1zM959 844h10v1h-10zM1280 844h2v1h-2zM116 845h1v1h-1zM124 845h2v1h-2zM128 845h1v3h-1zM207 845h1v1h-1zM642 845h1v1h-1zM681 845h2v1h-2zM690 845h2v1h-2zM707 845h1v1h-1zM715 845h1v1h-1zM729 845h1v2h-1zM769 845h1v1h-1zM926 845h1v2h-1zM928 845h1v1h-1zM957 845h2v1h-2zM1021 845h1v2h-1zM1279 845h1v1h-1zM1318 845h1v2h-1zM1322 845h1v1h-1zM117 846h1v1h-1zM123 846h1v1h-1zM205 846h2v1h-2zM640 846h2v1h-2zM683 846h2v1h-2zM689 846h1v1h-1zM708 846h2v1h-2zM714 846h1v1h-1zM768 846h1v1h-1zM834 846h1v1h-1zM929 846h1v1h-1zM955 846h2v1h-2zM1278 846h1v1h-1zM1321 846h1v1h-1zM118 847h1v2h-1zM122 847h1v1h-1zM204 847h1v1h-1zM235 847h1v6h-1zM639 847h1v1h-1zM685 847h2v1h-2zM688 847h1v1h-1zM710 847h1v1h-1zM712 847h2v1h-2zM730 847h1v2h-1zM767 847h1v1h-1zM835 847h1v1h-1zM925 847h1v1h-1zM930 847h1v1h-1zM953 847h2v1h-2zM1022 847h1v2h-1zM1277 847h1v1h-1zM1319 847h2v1h-2zM120 848h2v1h-2zM129 848h1v3h-1zM158 848h6v1h-6zM202 848h2v1h-2zM638 848h1v2h-1zM687 848h1v1h-1zM711 848h1v1h-1zM765 848h2v1h-2zM836 848h1v1h-1zM924 848h1v2h-1zM931 848h1v2h-1zM948 848h5v1h-5zM1276 848h1v1h-1zM1319 848h1v1h-1zM119 849h1v1h-1zM154 849h4v1h-4zM164 849h4v1h-4zM183 849h3v1h-3zM200 849h2v1h-2zM614 849h4v1h-4zM731 849h1v2h-1zM763 849h2v1h-2zM837 849h1v2h-1zM846 849h3v1h-3zM943 849h5v1h-5zM1023 849h5v1h-5zM1275 849h1v2h-1zM151 850h3v1h-3zM168 850h1v1h-1zM182 850h1v1h-1zM186 850h4v1h-4zM196 850h4v1h-4zM271 850h5v1h-5zM610 850h4v1h-4zM618 850h4v1h-4zM637 850h1v1h-1zM761 850h2v1h-2zM844 850h2v1h-2zM849 850h3v1h-3zM923 850h1v1h-1zM932 850h1v1h-1zM941 850h2v1h-2zM1028 850h5v1h-5zM130 851h1v3h-1zM150 851h1v2h-1zM169 851h1v1h-1zM181 851h1v1h-1zM190 851h6v1h-6zM270 851h1v1h-1zM276 851h4v1h-4zM606 851h4v1h-4zM622 851h2v1h-2zM636 851h1v1h-1zM732 851h1v2h-1zM759 851h2v1h-2zM838 851h1v1h-1zM841 851h3v1h-3zM852 851h2v1h-2zM922 851h1v2h-1zM933 851h1v1h-1zM939 851h2v1h-2zM1033 851h2v1h-2zM1274 851h1v1h-1zM170 852h2v1h-2zM180 852h1v1h-1zM268 852h2v1h-2zM280 852h2v1h-2zM470 852h2v1h-2zM604 852h2v1h-2zM624 852h1v1h-1zM635 852h1v2h-1zM758 852h1v1h-1zM839 852h2v1h-2zM854 852h3v1h-3zM934 852h1v1h-1zM937 852h2v1h-2zM1035 852h2v1h-2zM1273 852h1v1h-1zM149 853h1v1h-1zM172 853h1v1h-1zM178 853h2v1h-2zM236 853h1v5h-1zM267 853h1v1h-1zM282 853h2v1h-2zM468 853h2v1h-2zM472 853h1v2h-1zM601 853h3v1h-3zM625 853h1v1h-1zM733 853h1v2h-1zM757 853h1v1h-1zM857 853h2v1h-2zM921 853h1v1h-1zM935 853h2v1h-2zM1037 853h2v1h-2zM1272 853h1v1h-1zM131 854h1v2h-1zM148 854h1v2h-1zM173 854h1v1h-1zM177 854h1v1h-1zM266 854h1v1h-1zM284 854h1v1h-1zM465 854h3v1h-3zM564 854h8v1h-8zM599 854h2v1h-2zM626 854h2v1h-2zM634 854h1v1h-1zM742 854h3v1h-3zM756 854h1v1h-1zM859 854h2v1h-2zM920 854h1v2h-1zM1039 854h1v1h-1zM1271 854h1v1h-1zM174 855h1v1h-1zM176 855h1v1h-1zM264 855h2v1h-2zM285 855h2v1h-2zM463 855h2v1h-2zM473 855h1v2h-1zM558 855h6v1h-6zM572 855h8v1h-8zM598 855h1v1h-1zM628 855h1v1h-1zM633 855h1v1h-1zM734 855h1v2h-1zM740 855h2v1h-2zM745 855h2v1h-2zM754 855h2v1h-2zM861 855h2v1h-2zM1040 855h1v2h-1zM1143 855h1v1h-1zM1270 855h1v2h-1zM132 856h1v3h-1zM147 856h1v1h-1zM175 856h1v1h-1zM263 856h1v1h-1zM287 856h1v1h-1zM463 856h1v1h-1zM542 856h6v1h-6zM554 856h4v1h-4zM580 856h4v1h-4zM597 856h1v1h-1zM629 856h1v1h-1zM632 856h1v2h-1zM737 856h3v1h-3zM747 856h2v1h-2zM753 856h1v1h-1zM863 856h2v1h-2zM919 856h1v1h-1zM1142 856h1v1h-1zM1144 856h1v2h-1zM146 857h1v2h-1zM262 857h1v2h-1zM288 857h1v1h-1zM462 857h1v3h-1zM474 857h1v1h-1zM538 857h4v1h-4zM548 857h6v1h-6zM584 857h2v1h-2zM596 857h1v1h-1zM630 857h1v1h-1zM735 857h2v1h-2zM749 857h2v1h-2zM752 857h1v1h-1zM865 857h2v1h-2zM918 857h1v2h-1zM1041 857h1v1h-1zM1141 857h1v1h-1zM1269 857h1v1h-1zM237 858h1v5h-1zM289 858h1v2h-1zM475 858h1v2h-1zM535 858h3v1h-3zM586 858h1v1h-1zM595 858h1v1h-1zM631 858h1v1h-1zM751 858h1v1h-1zM867 858h2v1h-2zM1042 858h1v1h-1zM1124 858h4v1h-4zM1140 858h1v1h-1zM1145 858h1v2h-1zM1268 858h1v1h-1zM133 859h1v3h-1zM145 859h1v1h-1zM261 859h1v1h-1zM535 859h1v1h-1zM587 859h1v1h-1zM594 859h1v1h-1zM869 859h2v1h-2zM917 859h1v2h-1zM1043 859h1v2h-1zM1055 859h3v1h-3zM1119 859h5v1h-5zM1128 859h2v1h-2zM1139 859h1v1h-1zM1267 859h1v2h-1zM144 860h1v2h-1zM260 860h1v2h-1zM290 860h1v1h-1zM461 860h1v2h-1zM476 860h1v1h-1zM534 860h1v2h-1zM588 860h2v1h-2zM593 860h1v1h-1zM871 860h1v2h-1zM1054 860h1v1h-1zM1058 860h4v1h-4zM1118 860h1v1h-1zM1130 860h2v1h-2zM1138 860h1v1h-1zM1146 860h1v2h-1zM291 861h1v1h-1zM477 861h1v2h-1zM590 861h1v1h-1zM592 861h1v1h-1zM916 861h1v2h-1zM1044 861h1v1h-1zM1052 861h2v1h-2zM1062 861h2v1h-2zM1117 861h1v1h-1zM1132 861h1v1h-1zM1137 861h1v1h-1zM1266 861h1v1h-1zM134 862h1v3h-1zM143 862h1v1h-1zM259 862h1v1h-1zM292 862h1v1h-1zM460 862h1v3h-1zM533 862h1v2h-1zM591 862h1v1h-1zM872 862h1v2h-1zM1045 862h1v1h-1zM1051 862h1v1h-1zM1064 862h1v1h-1zM1116 862h1v1h-1zM1133 862h2v1h-2zM1136 862h1v1h-1zM1147 862h1v2h-1zM1265 862h1v1h-1zM141 863h2v1h-2zM238 863h1v6h-1zM258 863h1v2h-1zM293 863h1v2h-1zM478 863h1v2h-1zM486 863h3v1h-3zM915 863h1v1h-1zM1046 863h1v2h-1zM1050 863h1v1h-1zM1065 863h1v1h-1zM1115 863h1v2h-1zM1135 863h1v1h-1zM1264 863h1v2h-1zM139 864h2v1h-2zM482 864h4v1h-4zM489 864h3v1h-3zM532 864h1v3h-1zM873 864h1v2h-1zM914 864h1v2h-1zM1048 864h2v1h-2zM1066 864h2v1h-2zM1148 864h1v2h-1zM135 865h1v1h-1zM137 865h2v1h-2zM257 865h1v1h-1zM294 865h1v1h-1zM459 865h1v3h-1zM479 865h3v1h-3zM492 865h2v1h-2zM1047 865h1v1h-1zM1068 865h1v1h-1zM1114 865h1v1h-1zM1263 865h1v1h-1zM135 866h2v1h-2zM256 866h1v2h-1zM295 866h3v1h-3zM447 866h1v1h-1zM494 866h2v1h-2zM874 866h1v2h-1zM913 866h1v2h-1zM1069 866h1v1h-1zM1095 866h11v1h-11zM1113 866h1v1h-1zM1149 866h1v2h-1zM1223 866h1v1h-1zM1239 866h2v1h-2zM1262 866h1v1h-1zM298 867h4v1h-4zM446 867h1v1h-1zM448 867h1v2h-1zM496 867h1v1h-1zM531 867h1v2h-1zM1070 867h1v1h-1zM1094 867h1v2h-1zM1106 867h4v1h-4zM1112 867h1v1h-1zM1222 867h1v1h-1zM1224 867h2v1h-2zM1237 867h2v1h-2zM1241 867h3v1h-3zM1260 867h2v1h-2zM255 868h1v1h-1zM302 868h2v1h-2zM431 868h1v1h-1zM445 868h1v1h-1zM458 868h1v3h-1zM497 868h1v2h-1zM875 868h1v2h-1zM912 868h1v2h-1zM1071 868h2v1h-2zM1110 868h2v1h-2zM1150 868h1v2h-1zM1221 868h1v1h-1zM1226 868h2v1h-2zM1236 868h1v1h-1zM1244 868h2v1h-2zM1259 868h1v1h-1zM239 869h1v3h-1zM254 869h1v1h-1zM304 869h1v2h-1zM430 869h1v1h-1zM432 869h2v1h-2zM444 869h1v1h-1zM449 869h1v1h-1zM530 869h1v3h-1zM1073 869h2v1h-2zM1093 869h1v1h-1zM1220 869h1v1h-1zM1228 869h1v1h-1zM1234 869h2v1h-2zM1246 869h4v1h-4zM1258 869h1v1h-1zM253 870h1v1h-1zM428 870h2v1h-2zM434 870h1v1h-1zM443 870h1v1h-1zM450 870h1v1h-1zM498 870h1v1h-1zM876 870h1v2h-1zM911 870h1v1h-1zM1075 870h2v1h-2zM1092 870h1v2h-1zM1151 870h9v1h-9zM1219 870h1v2h-1zM1229 870h2v1h-2zM1232 870h2v1h-2zM1250 870h4v1h-4zM1256 870h2v1h-2zM252 871h1v1h-1zM305 871h1v1h-1zM427 871h1v1h-1zM435 871h1v1h-1zM442 871h1v1h-1zM451 871h1v2h-1zM457 871h1v2h-1zM499 871h1v1h-1zM910 871h1v1h-1zM1077 871h2v1h-2zM1159 871h1v1h-1zM1231 871h1v1h-1zM1254 871h2v1h-2zM240 872h2v1h-2zM251 872h1v2h-1zM306 872h1v1h-1zM426 872h1v1h-1zM436 872h2v1h-2zM441 872h1v1h-1zM500 872h1v1h-1zM511 872h2v1h-2zM529 872h1v2h-1zM877 872h1v2h-1zM909 872h1v1h-1zM1079 872h1v1h-1zM1091 872h1v1h-1zM1160 872h1v2h-1zM1218 872h1v1h-1zM242 873h1v1h-1zM307 873h1v2h-1zM424 873h2v1h-2zM438 873h1v1h-1zM440 873h1v1h-1zM452 873h1v1h-1zM456 873h1v3h-1zM501 873h1v2h-1zM509 873h2v1h-2zM513 873h2v1h-2zM886 873h2v1h-2zM908 873h1v1h-1zM1080 873h2v1h-2zM1090 873h1v2h-1zM1217 873h1v1h-1zM243 874h1v1h-1zM250 874h1v1h-1zM415 874h9v1h-9zM439 874h1v1h-1zM453 874h1v1h-1zM507 874h2v1h-2zM515 874h2v1h-2zM528 874h1v2h-1zM878 874h1v2h-1zM884 874h2v1h-2zM888 874h1v1h-1zM906 874h2v1h-2zM1082 874h1v1h-1zM1161 874h1v2h-1zM1216 874h1v1h-1zM244 875h2v1h-2zM249 875h1v1h-1zM308 875h1v1h-1zM415 875h1v1h-1zM454 875h1v1h-1zM502 875h1v1h-1zM505 875h2v1h-2zM517 875h2v1h-2zM881 875h3v1h-3zM889 875h1v1h-1zM905 875h1v1h-1zM1083 875h1v1h-1zM1089 875h1v1h-1zM1215 875h1v1h-1zM246 876h1v1h-1zM248 876h1v1h-1zM309 876h1v1h-1zM327 876h3v1h-3zM367 876h3v1h-3zM414 876h1v2h-1zM454 876h2v1h-2zM503 876h2v1h-2zM519 876h5v1h-5zM527 876h1v1h-1zM879 876h2v1h-2zM890 876h1v1h-1zM904 876h1v1h-1zM1084 876h2v1h-2zM1088 876h1v2h-1zM1162 876h1v3h-1zM1214 876h1v2h-1zM247 877h1v1h-1zM310 877h1v2h-1zM326 877h1v1h-1zM330 877h4v1h-4zM366 877h1v1h-1zM370 877h4v1h-4zM455 877h1v1h-1zM524 877h4v1h-4zM891 877h1v2h-1zM903 877h1v1h-1zM1086 877h1v1h-1zM325 878h1v1h-1zM334 878h4v1h-4zM365 878h1v1h-1zM374 878h6v1h-6zM413 878h1v2h-1zM901 878h2v1h-2zM1087 878h1v1h-1zM1213 878h1v1h-1zM311 879h1v1h-1zM324 879h1v1h-1zM338 879h4v1h-4zM364 879h1v1h-1zM380 879h4v1h-4zM892 879h1v1h-1zM900 879h1v1h-1zM1163 879h1v2h-1zM1175 879h5v1h-5zM1212 879h1v2h-1zM312 880h2v1h-2zM323 880h1v1h-1zM342 880h6v1h-6zM362 880h2v1h-2zM384 880h2v1h-2zM412 880h1v2h-1zM893 880h1v1h-1zM898 880h2v1h-2zM1174 880h1v1h-1zM1180 880h6v1h-6zM314 881h2v1h-2zM322 881h1v1h-1zM348 881h6v1h-6zM361 881h1v1h-1zM386 881h2v1h-2zM894 881h1v1h-1zM896 881h2v1h-2zM1164 881h1v3h-1zM1173 881h1v2h-1zM1186 881h4v1h-4zM1211 881h1v1h-1zM316 882h1v1h-1zM321 882h1v1h-1zM354 882h4v1h-4zM360 882h1v1h-1zM388 882h1v1h-1zM411 882h1v3h-1zM895 882h1v1h-1zM1190 882h3v1h-3zM1210 882h1v2h-1zM317 883h2v1h-2zM320 883h1v1h-1zM358 883h2v1h-2zM389 883h2v1h-2zM1172 883h1v1h-1zM1193 883h2v1h-2zM319 884h1v1h-1zM391 884h3v1h-3zM1165 884h1v2h-1zM1171 884h1v1h-1zM1195 884h2v1h-2zM1209 884h1v1h-1zM394 885h4v1h-4zM410 885h1v2h-1zM1170 885h1v1h-1zM1197 885h2v1h-2zM1208 885h1v2h-1zM398 886h2v1h-2zM1166 886h1v2h-1zM1169 886h1v2h-1zM1199 886h5v1h-5zM400 887h2v1h-2zM409 887h1v2h-1zM1204 887h4v1h-4zM402 888h1v1h-1zM1167 888h2v1h-2zM403 889h1v1h-1zM408 889h1v2h-1zM1167 889h1v1h-1zM404 890h2v1h-2zM406 891h2v1h-2zM407 892h1v1h-1z"/>
<text x="3" y="780" font-size="9.5" fill="#000" textLength="68" lengthAdjust="spacingAndGlyphs">RSI(14) 56.7593</text>
<g font-size="9.6" fill="#000">
<text x="1630" y="777.7" textLength="15.5" lengthAdjust="spacingAndGlyphs">100</text>
<text x="1630" y="803.7" textLength="10.3" lengthAdjust="spacingAndGlyphs">80</text>
<text x="1630" y="850.7" textLength="10.3" lengthAdjust="spacingAndGlyphs">50</text>
<text x="1630" y="906.7" textLength="10.3" lengthAdjust="spacingAndGlyphs">15</text>
<text x="1630" y="923.7" textLength="5.2" lengthAdjust="spacingAndGlyphs">0</text>
</g>
<g font-size="9.5" fill="#000">
<rect x="-1" y="928" width="1" height="3" shape-rendering="crispEdges"/>
<text x="-2" y="939.5">28 Apr 2019</text>
<rect x="63" y="928" width="1" height="3" shape-rendering="crispEdges"/>
<text x="62" y="939.5">30 Apr 04:00</text>
<rect x="127" y="928" width="1" height="3" shape-rendering="crispEdges"/>
<text x="126" y="939.5">1 May 14:55</text>
<rect x="191" y="928" width="1" height="3" shape-rendering="crispEdges"/>
<text x="190" y="939.5">2 May 23:30</text>
<rect x="255" y="928" width="1" height="3" shape-rendering="crispEdges"/>
<text x="254" y="939.5">6 May 04:00</text>
<rect x="319" y="928" width="1" height="3" shape-rendering="crispEdges"/>
<text x="318" y="939.5">7 May 14:55</text>
<rect x="383" y="928" width="1" height="3" shape-rendering="crispEdges"/>
<text x="382" y="939.5">8 May 23:30</text>
<rect x="447" y="928" width="1" height="3" shape-rendering="crispEdges"/>
<text x="446" y="939.5">10 May 04:00</text>
<rect x="511" y="928" width="1" height="3" shape-rendering="crispEdges"/>
<text x="510" y="939.5">13 May 14:55</text>
<rect x="575" y="928" width="1" height="3" shape-rendering="crispEdges"/>
<text x="574" y="939.5">14 May 23:30</text>
<rect x="639" y="928" width="1" height="3" shape-rendering="crispEdges"/>
<text x="638" y="939.5">16 May 04:00</text>
<rect x="703" y="928" width="1" height="3" shape-rendering="crispEdges"/>
<text x="702" y="939.5">17 May 14:55</text>
<rect x="767" y="928" width="1" height="3" shape-rendering="crispEdges"/>
<text x="766" y="939.5">20 May 23:30</text>
<rect x="831" y="928" width="1" height="3" shape-rendering="crispEdges"/>
<text x="830" y="939.5">22 May 04:00</text>
<rect x="895" y="928" width="1" height="3" shape-rendering="crispEdges"/>
<text x="894" y="939.5">23 May 14:55</text>
<rect x="959" y="928" width="1" height="3" shape-rendering="crispEdges"/>
<text x="958" y="939.5">26 May 23:30</text>
<rect x="1023" y="928" width="1" height="3" shape-rendering="crispEdges"/>
<text x="1022" y="939.5">28 May 04:00</text>
<rect x="1087" y="928" width="1" height="3" shape-rendering="crispEdges"/>
<text x="1086" y="939.5">29 May 14:55</text>
<rect x="1151" y="928" width="1" height="3" shape-rendering="crispEdges"/>
<text x="1150" y="939.5">30 May 23:30</text>
<rect x="1215" y="928" width="1" height="3" shape-rendering="crispEdges"/>
<text x="1214" y="939.5">3 Jun 04:00</text>
<rect x="1279" y="928" width="1" height="3" shape-rendering="crispEdges"/>
<text x="1278" y="939.5">4 Jun 14:55</text>
<rect x="1343" y="928" width="1" height="3" shape-rendering="crispEdges"/>
<text x="1342" y="939.5">5 Jun 23:30</text>
</g>
</svg>
<svg width="1674" height="27" viewBox="0 0 1674 27" style="position:absolute;left:0;top:0" font-family="Liberation Sans, sans-serif">
<defs><pattern id="ck" width="2" height="2" patternUnits="userSpaceOnUse"><rect width="2" height="2" fill="#fff"/><rect width="1" height="1" fill="#f0f0f0"/><rect x="1" y="1" width="1" height="1" fill="#f0f0f0"/></pattern>
<linearGradient id="gold" x1="0" y1="0" x2="1" y2="1"><stop offset="0" stop-color="#f8d040"/><stop offset="1" stop-color="#c88a10"/></linearGradient>
<linearGradient id="gplus" x1="0" y1="0" x2="0" y2="1"><stop offset="0" stop-color="#50f050"/><stop offset="1" stop-color="#10b010"/></linearGradient>
<radialGradient id="lens" cx="0.4" cy="0.35" r="0.7"><stop offset="0" stop-color="#f4faff"/><stop offset="1" stop-color="#b8d8f4"/></radialGradient>
</defs>
<rect x="0" y="0" width="1674" height="22" fill="#f0f0f0"/><rect x="0" y="22" width="1674" height="1" fill="#f6f6f6"/>
<rect x="0" y="23" width="1674" height="1" fill="#a8a8a8"/><rect x="0" y="24" width="1673" height="1" fill="#666"/><rect x="0" y="25" width="1674" height="2" fill="#fff"/>
<g shape-rendering="crispEdges">
<rect x="263" y="0" width="24" height="21" fill="url(#ck)"/>
<rect x="262" y="0" width="1" height="21" fill="#a0a0a0"/>
<rect x="262" y="21" width="26" height="1" fill="#fff"/><rect x="287" y="0" width="1" height="22" fill="#fff"/>
<rect x="415" y="0" width="24" height="21" fill="url(#ck)"/>
<rect x="414" y="0" width="1" height="21" fill="#a0a0a0"/>
<rect x="414" y="21" width="26" height="1" fill="#fff"/><rect x="439" y="0" width="1" height="22" fill="#fff"/>
<rect x="443" y="0" width="24" height="21" fill="url(#ck)"/>
<rect x="442" y="0" width="1" height="21" fill="#a0a0a0"/>
<rect x="442" y="21" width="26" height="1" fill="#fff"/><rect x="467" y="0" width="1" height="22" fill="#fff"/>
<rect x="603" y="0" width="24" height="21" fill="url(#ck)"/>
<rect x="602" y="0" width="1" height="21" fill="#a0a0a0"/>
<rect x="602" y="21" width="26" height="1" fill="#fff"/><rect x="627" y="0" width="1" height="22" fill="#fff"/>
<rect x="1049" y="0" width="24" height="21" fill="url(#ck)"/>
<rect x="1048" y="0" width="1" height="21" fill="#a0a0a0"/>
<rect x="1048" y="21" width="26" height="1" fill="#fff"/><rect x="1073" y="0" width="1" height="22" fill="#fff"/>
<rect x="319" y="0" width="1" height="21" fill="#a0a0a0"/><rect x="320" y="0" width="1" height="21" fill="#fff"/>
<rect x="409" y="0" width="1" height="21" fill="#a0a0a0"/><rect x="410" y="0" width="1" height="21" fill="#fff"/>
<rect x="471" y="0" width="1" height="21" fill="#a0a0a0"/><rect x="472" y="0" width="1" height="21" fill="#fff"/>
<rect x="659" y="0" width="1" height="21" fill="#a0a0a0"/><rect x="660" y="0" width="1" height="21" fill="#fff"/>
<rect x="224" y="0" width="1" height="23" fill="#909090"/><rect x="225" y="0" width="1" height="23" fill="#fafafa"/>
<rect x="592" y="0" width="1" height="23" fill="#909090"/><rect x="593" y="0" width="1" height="23" fill="#fafafa"/>
<rect x="898" y="0" width="1" height="23" fill="#909090"/><rect x="899" y="0" width="1" height="23" fill="#fafafa"/>
<rect x="1159" y="0" width="1" height="23" fill="#909090"/><rect x="1160" y="0" width="1" height="23" fill="#fafafa"/>
<rect x="228" y="1" width="3" height="1" fill="#b4b4b4"/>
<rect x="228" y="3" width="3" height="1" fill="#b4b4b4"/>
<rect x="228" y="5" width="3" height="1" fill="#b4b4b4"/>
<rect x="228" y="7" width="3" height="1" fill="#b4b4b4"/>
<rect x="228" y="9" width="3" height="1" fill="#b4b4b4"/>
<rect x="228" y="11" width="3" height="1" fill="#b4b4b4"/>
<rect x="228" y="13" width="3" height="1" fill="#b4b4b4"/>
<rect x="228" y="15" width="3" height="1" fill="#b4b4b4"/>
<rect x="228" y="17" width="3" height="1" fill="#b4b4b4"/>
<rect x="228" y="19" width="3" height="1" fill="#b4b4b4"/>
<rect x="596" y="1" width="3" height="1" fill="#b4b4b4"/>
<rect x="596" y="3" width="3" height="1" fill="#b4b4b4"/>
<rect x="596" y="5" width="3" height="1" fill="#b4b4b4"/>
<rect x="596" y="7" width="3" height="1" fill="#b4b4b4"/>
<rect x="596" y="9" width="3" height="1" fill="#b4b4b4"/>
<rect x="596" y="11" width="3" height="1" fill="#b4b4b4"/>
<rect x="596" y="13" width="3" height="1" fill="#b4b4b4"/>
<rect x="596" y="15" width="3" height="1" fill="#b4b4b4"/>
<rect x="596" y="17" width="3" height="1" fill="#b4b4b4"/>
<rect x="596" y="19" width="3" height="1" fill="#b4b4b4"/>
<rect x="902" y="1" width="3" height="1" fill="#b4b4b4"/>
<rect x="902" y="3" width="3" height="1" fill="#b4b4b4"/>
<rect x="902" y="5" width="3" height="1" fill="#b4b4b4"/>
<rect x="902" y="7" width="3" height="1" fill="#b4b4b4"/>
<rect x="902" y="9" width="3" height="1" fill="#b4b4b4"/>
<rect x="902" y="11" width="3" height="1" fill="#b4b4b4"/>
<rect x="902" y="13" width="3" height="1" fill="#b4b4b4"/>
<rect x="902" y="15" width="3" height="1" fill="#b4b4b4"/>
<rect x="902" y="17" width="3" height="1" fill="#b4b4b4"/>
<rect x="902" y="19" width="3" height="1" fill="#b4b4b4"/>
</g>
<text x="17" y="13.4" font-size="12" fill="#000" textLength="36" lengthAdjust="spacingAndGlyphs" style="font-family:'Liberation Sans','Noto Sans CJK SC',sans-serif">新订单</text>
<text x="170.5" y="13.5" font-size="11.5" fill="#000" textLength="45" lengthAdjust="spacingAndGlyphs" style="font-family:'Liberation Sans','Noto Sans CJK SC',sans-serif">自动交易</text>
<path d="M-1 3.500 H6.500 L9.500 6.500 V15.500 H-1 Z" fill="#fff" stroke="#9a9a9a"/><path d="M1 8.500h6M1 10.500h6M1 12.500h4" stroke="#b0b0b0"/>
<path d="M6 9.500h4.200v3.700h3.700v4.200h-3.700v3.700h-4.200v-3.700h-3.700v-4.200h3.700z" fill="url(#gplus)" stroke="#109a10" stroke-width="0.8"/>
<path d="M65 13.300 L71.500 4.300 L81 11.500 L73 18.600 Z" fill="url(#gold)" stroke="#b07810" stroke-width="0.8"/><path d="M65.500 14.500 L73 19.300 L81 12.800" fill="none" stroke="#9a6808" stroke-width="1"/>
<path d="M95.500 4 L100 3 L106 4 V12 H95.500 Z" fill="#2aa0f0"/><rect x="100" y="5.500" width="5" height="6" fill="#e8f4ff"/><path d="M101 7.500h3" stroke="#2a90e0"/>
<path d="M94 18.300 a3 3 0 0 1 0.500 -5.600 a3.500 3.500 0 0 1 6 -1.500 a3 3 0 0 1 5 1.500 a2.800 2.800 0 0 1 1 5.600 z" fill="#e4ecf8" stroke="#6888c8" stroke-width="0.9"/>
<circle cx="129" cy="10.800" r="7.300" fill="none" stroke="#b4cce8" stroke-width="1.300"/><circle cx="129" cy="10.800" r="4.600" fill="none" stroke="#7aa0d8" stroke-width="1.300"/>
<path d="M129.200 18.200 A7.300 7.300 0 0 0 136.300 10.800" fill="none" stroke="#6ab86a" stroke-width="1.400"/><path d="M129.200 15.400 A4.600 4.600 0 0 0 133.600 10.800" fill="none" stroke="#5aa85a" stroke-width="1.300"/>
<circle cx="129" cy="10.800" r="2" fill="#2a60d0"/><path d="M129.500 11v7.500" stroke="#20a020" stroke-width="1.800"/>
<path d="M149 10 H163 L157 18.600 H155 Z" fill="#f8dc50" stroke="#d8a820" stroke-width="0.7"/>
<ellipse cx="156" cy="7.800" rx="8" ry="2.600" fill="#4a9ad8"/><ellipse cx="156" cy="5.800" rx="4" ry="2.800" fill="#6ab4e8"/>
<circle cx="160.500" cy="14.700" r="4" fill="#e02818"/><rect x="159" y="13.200" width="3" height="3" fill="#fff"/>
<path d="M242.5 18.500V6M240.5 16.600H253" stroke="#555" stroke-width="1.500" fill="none"/><path d="M242.5 4.500l-2.200 3h4.400zM255 16.600l-3 -2.200v4.400z" fill="#555"/>
<path d="M248.500 6.500V14.300M248.500 7.200h2.800M246 13.600h2.500" stroke="#109010" stroke-width="1.300" fill="none"/>
<path d="M270.5 18.500V6M268.5 16.600H281" stroke="#555" stroke-width="1.500" fill="none"/><path d="M270.5 4.500l-2.200 3h4.400zM283 16.600l-3 -2.200v4.400z" fill="#555"/>
<path d="M276.500 3V15" stroke="#109010" stroke-width="1.300"/><rect x="274.500" y="5.300" width="4.200" height="7.400" fill="#40e840" stroke="#109010" stroke-width="0.900"/>
<path d="M298.5 18.500V6M296.5 16.600H309" stroke="#555" stroke-width="1.500" fill="none"/><path d="M298.5 4.500l-2.200 3h4.400zM311 16.600l-3 -2.200v4.400z" fill="#555"/>
<path d="M297.300 13.600 Q300.500 11 303 8.300 Q305 8.300 308.800 12.600" stroke="#209020" stroke-width="1.200" fill="none"/>
<path d="M338.2 13.200 L343.2 18.300" stroke="#b08818" stroke-width="3.200" stroke-linecap="round"/><path d="M338.2 13.200 L343.2 18.300" stroke="#f0d040" stroke-width="1.600" stroke-linecap="round"/>
<circle cx="334.2" cy="9" r="5.500" fill="url(#lens)" stroke="#3a7cc8" stroke-width="1.300"/>
<path d="M331 9h6.400" stroke="#3a80b0" stroke-width="1.800"/>
<path d="M334.2 5.800v6.400" stroke="#3a80b0" stroke-width="1.800"/>
<path d="M366 13.200 L371 18.300" stroke="#b08818" stroke-width="3.200" stroke-linecap="round"/><path d="M366 13.200 L371 18.300" stroke="#f0d040" stroke-width="1.600" stroke-linecap="round"/>
<circle cx="362" cy="9" r="5.500" fill="url(#lens)" stroke="#3a7cc8" stroke-width="1.300"/>
<path d="M358.8 9h6.400" stroke="#3a80b0" stroke-width="1.800"/>
<rect x="384" y="3" width="8" height="8" fill="#44a422"/><rect x="385" y="6.5" width="5" height="3.500" fill="#f4f8ff"/><rect x="386" y="7.5" width="3" height="1" fill="#44a422" opacity="0.500"/>
<rect x="392" y="3" width="8" height="8" fill="#2456c8"/><rect x="393" y="6.5" width="5" height="3.500" fill="#f4f8ff"/><rect x="394" y="7.5" width="3" height="1" fill="#2456c8" opacity="0.500"/>
<rect x="384" y="11" width="8" height="8" fill="#2456c8"/><rect x="385" y="14.5" width="5" height="3.500" fill="#f4f8ff"/><rect x="386" y="15.5" width="3" height="1" fill="#2456c8" opacity="0.500"/>
<rect x="392" y="11" width="8" height="8" fill="#44a422"/><rect x="393" y="14.5" width="5" height="3.500" fill="#f4f8ff"/><rect x="394" y="15.5" width="3" height="1" fill="#44a422" opacity="0.500"/>
<path d="M422.5 18.500V6M420.5 16.600H433" stroke="#555" stroke-width="1.500" fill="none"/><path d="M422.5 4.500l-2.200 3h4.400zM435 16.600l-3 -2.200v4.400z" fill="#555"/>
<path d="M427.300 7 L431.300 10.500 L427.300 14 Z" fill="#40e870" stroke="#109010" stroke-width="0.900"/>
<path d="M450.5 18.500V6M448.5 16.600H461" stroke="#555" stroke-width="1.500" fill="none"/><path d="M450.5 4.500l-2.200 3h4.400zM463 16.600l-3 -2.200v4.400z" fill="#555"/>
<path d="M456.500 5V15" stroke="#2080b0" stroke-width="1.600"/><path d="M457.500 10.500 l3.500 -2.500 v5z M460 10.500h3" fill="#e04800" stroke="#e04800" stroke-width="0.800"/>
<path d="M481.500 3.500 H490 L493 6.500 V16.500 H481.500 Z" fill="#fcfcfc" stroke="#9a9a9a"/><text x="483.500" y="13" font-size="9" font-style="italic" fill="#555">f</text>
<path d="M489 8.800h4.200v3.700h3.700v4.200h-3.700v3.700h-4.200v-3.700h-3.700v-4.200h3.700z" fill="url(#gplus)" stroke="#109a10" stroke-width="0.800"/>
<path d="M503 10 h5.600 l-2.800 3.300z" fill="#000"/>
<path d="M541.7 10 h5.600 l-2.800 3.300z" fill="#000"/>
<path d="M581 10 h5.600 l-2.800 3.300z" fill="#000"/>
<path d="M886.8 10 h5.600 l-2.800 3.300z" fill="#000"/>
<circle cx="527" cy="10.800" r="6.800" fill="#fafcff" stroke="#1a72d8" stroke-width="2.200"/><path d="M527 7v4.200h3" stroke="#222" stroke-width="1.100" fill="none"/>
<rect x="558.500" y="4.500" width="15" height="13" fill="#fff" stroke="#3a78c8"/><rect x="559" y="5" width="14" height="2" fill="#a8d0f8"/><path d="M559 12h14" stroke="#3a78c8" stroke-width="0.800"/>
<path d="M560.500 10 l2.500 0 l2 -1.500 l2 1 l2.500 0 l2 -1" stroke="#a83010" stroke-width="1.200" fill="none"/><path d="M560.500 15.500 l2.500 -1 l2 0.500 l2.500 -1.800 l2.500 2" stroke="#209030" stroke-width="1.200" fill="none"/>
<path d="M610.300 4 V15.200 L613 12.800 L615.600 18 L617.400 17.100 L614.900 12 L618.200 11.600 Z" fill="#505050"/>
<path d="M642.500 4v6.500M642.500 12.500v6.500M635 11.500h6.500M643.500 11.500h6.500" stroke="#505050" stroke-width="1.400" fill="none"/>
<path d="M676.500 5v13" stroke="#505050" stroke-width="1.400"/><path d="M699 11.500h12" stroke="#505050" stroke-width="1.400"/><path d="M727 17.900 L739 5.700" stroke="#505050" stroke-width="1.300"/>
<g stroke="#505050" stroke-width="0.900" fill="none"><path d="M753 13 L762 5.500M754.500 17 L767 7M757 18 L767 9.500M757 9.500V17M760 7.500V15M763 5V13.500M765.500 3V11"/></g><text x="763.600" y="19.700" font-size="6.500" font-weight="bold" fill="#333">E</text>
<g stroke="#505050" stroke-width="1" stroke-dasharray="1,1" shape-rendering="crispEdges"><path d="M782 4.500h13M782 7.500h13M782 11.500h13M782 15.500h9"/></g><text x="791.700" y="19.700" font-size="6.500" font-weight="bold" fill="#333">F</text>
<text x="812.700" y="15.800" font-size="12.500" font-weight="bold" fill="#606060" textLength="7.800" lengthAdjust="spacingAndGlyphs">A</text>
<rect x="839.500" y="5.500" width="11" height="12" fill="none" stroke="#505050" stroke-dasharray="1,1" shape-rendering="crispEdges"/><text x="841.200" y="15.800" font-size="11" font-weight="bold" fill="#505050" textLength="7.500" lengthAdjust="spacingAndGlyphs">T</text>
<path d="M866.300 8.200 L869.600 5 L872.900 8.200 L869.600 9.500Z M872.800 14.500 L876.300 13.200 L879.800 14.500 L876.300 18Z" fill="#505050"/><path d="M868 12 l2 2 l5 -5.500" stroke="#505050" stroke-width="1.300" fill="none"/>
<g font-size="10" fill="#404040">
<text x="913.4" y="15" textLength="12.6" lengthAdjust="spacingAndGlyphs">M1</text>
<text x="941.8" y="15" textLength="12.5" lengthAdjust="spacingAndGlyphs">M5</text>
<text x="967.7" y="15" textLength="17.6" lengthAdjust="spacingAndGlyphs">M15</text>
<text x="995.7" y="15" textLength="17.6" lengthAdjust="spacingAndGlyphs">M30</text>
<text x="1026.7" y="15" textLength="11.3" lengthAdjust="spacingAndGlyphs">H1</text>
<text x="1053.5" y="15" textLength="12.2" lengthAdjust="spacingAndGlyphs">H4</text>
<text x="1082.6" y="15" textLength="11.4" lengthAdjust="spacingAndGlyphs">D1</text>
<text x="1110.0" y="15" textLength="14.0" lengthAdjust="spacingAndGlyphs">W1</text>
<text x="1136.6" y="15" textLength="14.6" lengthAdjust="spacingAndGlyphs">MN</text>
</g>
<path d="M1626.700 11.400 L1622.300 15.700" stroke="#2a62d4" stroke-width="2.600" stroke-linecap="round"/><circle cx="1629.600" cy="8.400" r="4" fill="#f4f4f8" stroke="#2452e0" stroke-width="1.300"/>
<path d="M1665 11.500 l1.200 3 l-3 -2.500z" fill="#707070"/><ellipse cx="1662.300" cy="7.900" rx="6.500" ry="4.600" fill="#f8f8fa" stroke="#9a9a9a" stroke-width="0.900"/>
<path d="M1650.500 15 l-0.800 3 l3 -2.500z" fill="#707070"/><ellipse cx="1653.300" cy="12" rx="5" ry="3.900" fill="#f4f4f8" stroke="#8a8a8a" stroke-width="0.900"/>
</svg>
<svg width="230" height="70" viewBox="0 45 230 70" style="position:absolute;left:0;top:45px" font-family="Liberation Sans, sans-serif">
<defs><linearGradient id="g1" gradientUnits="userSpaceOnUse" x1="0" y1="47" x2="0" y2="111"><stop offset="0" stop-color="#fb5555"/><stop offset="0.38" stop-color="#dc2a2a"/><stop offset="0.75" stop-color="#c41414"/><stop offset="1" stop-color="#b00000"/></linearGradient></defs>
<rect x="0" y="45" width="223" height="68" fill="#fff"/>
<path d="M2 47 H54 V71 H111 V111 H2 Z" fill="url(#g1)"/>
<path d="M169 47 H221 V111 H113 V71 H169 Z" fill="url(#g1)"/>
<rect x="6" y="70" width="44" height="1" fill="#a00000"/><rect x="6" y="71" width="44" height="1" fill="#f06a6a"/>
<rect x="173" y="70" width="44" height="1" fill="#a00000"/><rect x="173" y="71" width="44" height="1" fill="#f06a6a"/>
<rect x="56.500" y="47.500" width="110" height="21" fill="#fff" stroke="#a8a8a8"/>
<rect x="57" y="48" width="20" height="20" fill="#ebebeb"/><rect x="77" y="48" width="1" height="20" fill="#a8a8a8"/>
<rect x="146" y="48" width="20" height="20" fill="#ebebeb"/><rect x="145" y="48" width="1" height="20" fill="#a8a8a8"/>
<path d="M64 56.500 h6 l-3 3.500z" fill="#000"/><path d="M153 59.500 h6 l-3 -3.500z" fill="#000"/>
<text x="142" y="62" font-size="12" fill="#222" text-anchor="end">1.00</text>
<text x="14.500" y="63" font-size="12.500" fill="#fff" textLength="25.500" lengthAdjust="spacingAndGlyphs">SELL</text>
<text x="182" y="63" font-size="12.500" fill="#fff" textLength="24" lengthAdjust="spacingAndGlyphs">BUY</text>
<text x="18" y="102" font-size="12.500" font-weight="bold" fill="#fff" textLength="33.500" lengthAdjust="spacingAndGlyphs">20821</text>
<text x="128" y="102" font-size="12.500" font-weight="bold" fill="#fff" textLength="34.700" lengthAdjust="spacingAndGlyphs">20844</text>
<text x="56" y="102.300" font-size="35.500" fill="#fff" textLength="26" lengthAdjust="spacingAndGlyphs">.0</text>
<text x="166.800" y="102.300" font-size="35.500" fill="#fff" textLength="26.500" lengthAdjust="spacingAndGlyphs">.0</text>
</svg>
</body></html>
